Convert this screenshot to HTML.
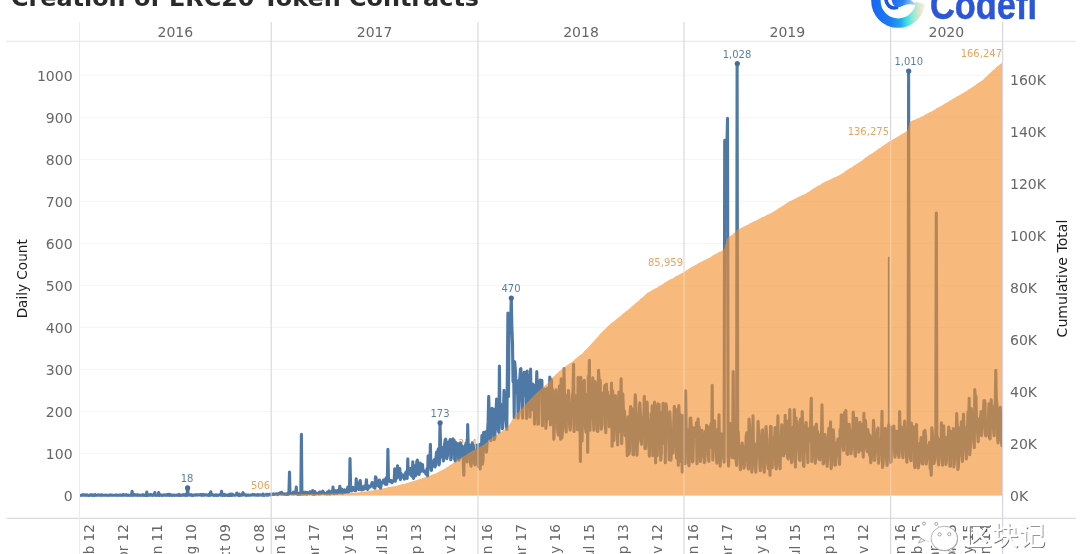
<!DOCTYPE html>
<html lang="en"><head><meta charset="utf-8"><title>Creation of ERC20 Token Contracts</title>
<style>
html,body{margin:0;padding:0;background:#fff;}
body{width:1080px;height:554px;overflow:hidden;position:relative;font-family:"DejaVu Sans","Liberation Sans","Noto Sans CJK SC",sans-serif;}
</style></head><body>
<svg width="1080" height="554" viewBox="0 0 1080 554" style="position:absolute;left:0;top:0">
<rect width="1080" height="554" fill="#fff"/>
<line x1="79.5" x2="1002.0" y1="495.50" y2="495.50" stroke="#f5f5f5" stroke-width="1"/>
<line x1="79.5" x2="1002.0" y1="453.48" y2="453.48" stroke="#f5f5f5" stroke-width="1"/>
<line x1="79.5" x2="1002.0" y1="411.46" y2="411.46" stroke="#f5f5f5" stroke-width="1"/>
<line x1="79.5" x2="1002.0" y1="369.44" y2="369.44" stroke="#f5f5f5" stroke-width="1"/>
<line x1="79.5" x2="1002.0" y1="327.42" y2="327.42" stroke="#f5f5f5" stroke-width="1"/>
<line x1="79.5" x2="1002.0" y1="285.40" y2="285.40" stroke="#f5f5f5" stroke-width="1"/>
<line x1="79.5" x2="1002.0" y1="243.38" y2="243.38" stroke="#f5f5f5" stroke-width="1"/>
<line x1="79.5" x2="1002.0" y1="201.36" y2="201.36" stroke="#f5f5f5" stroke-width="1"/>
<line x1="79.5" x2="1002.0" y1="159.34" y2="159.34" stroke="#f5f5f5" stroke-width="1"/>
<line x1="79.5" x2="1002.0" y1="117.32" y2="117.32" stroke="#f5f5f5" stroke-width="1"/>
<line x1="79.5" x2="1002.0" y1="75.30" y2="75.30" stroke="#f5f5f5" stroke-width="1"/>
<defs><clipPath id="inA"><path d="M79.5,495.5 L79.5,495.5 L80.6,495.5 L81.8,495.5 L82.9,495.5 L84.0,495.5 L85.2,495.5 L86.3,495.5 L87.4,495.5 L88.6,495.5 L89.7,495.5 L90.8,495.5 L92.0,495.5 L93.1,495.5 L94.2,495.5 L95.3,495.5 L96.5,495.5 L97.6,495.5 L98.7,495.5 L99.9,495.5 L101.0,495.5 L102.1,495.5 L103.3,495.5 L104.4,495.5 L105.5,495.5 L106.7,495.5 L107.8,495.5 L108.9,495.5 L110.1,495.5 L111.2,495.5 L112.3,495.5 L113.5,495.5 L114.6,495.5 L115.7,495.5 L116.9,495.5 L118.0,495.5 L119.1,495.5 L120.2,495.5 L121.4,495.5 L122.5,495.5 L123.6,495.5 L124.8,495.5 L125.9,495.5 L127.0,495.5 L128.2,495.5 L129.3,495.5 L130.4,495.5 L131.6,495.5 L132.7,495.5 L133.8,495.5 L135.0,495.5 L136.1,495.5 L137.2,495.5 L138.4,495.5 L139.5,495.5 L140.6,495.5 L141.8,495.5 L142.9,495.5 L144.0,495.5 L145.2,495.5 L146.3,495.5 L147.4,495.5 L148.5,495.5 L149.7,495.5 L150.8,495.5 L151.9,495.5 L153.1,495.5 L154.2,495.5 L155.3,495.5 L156.5,495.5 L157.6,495.5 L158.7,495.5 L159.9,495.5 L161.0,495.5 L162.1,495.5 L163.3,495.5 L164.4,495.5 L165.5,495.5 L166.7,495.5 L167.8,495.5 L168.9,495.5 L170.1,495.5 L171.2,495.5 L172.3,495.5 L173.4,495.5 L174.6,495.5 L175.7,495.5 L176.8,495.5 L178.0,495.5 L179.1,495.5 L180.2,495.5 L181.4,495.5 L182.5,495.5 L183.6,495.5 L184.8,495.5 L185.9,495.5 L187.0,495.5 L188.2,495.5 L189.3,495.5 L190.4,495.5 L191.6,495.5 L192.7,495.5 L193.8,495.5 L195.0,495.5 L196.1,495.5 L197.2,495.5 L198.3,495.5 L199.5,495.5 L200.6,495.5 L201.7,495.5 L202.9,495.5 L204.0,495.5 L205.1,495.5 L206.3,495.5 L207.4,495.5 L208.5,495.5 L209.7,495.5 L210.8,495.5 L211.9,495.5 L213.1,495.5 L214.2,495.5 L215.3,495.5 L216.5,495.5 L217.6,495.5 L218.7,495.5 L219.9,495.5 L221.0,495.5 L222.1,495.5 L223.3,495.5 L224.4,495.5 L225.5,495.5 L226.6,495.5 L227.8,495.5 L228.9,495.5 L230.0,495.5 L231.2,495.5 L232.3,495.5 L233.4,495.5 L234.6,495.5 L235.7,495.5 L236.8,495.5 L238.0,495.5 L239.1,495.5 L240.2,495.5 L241.4,495.5 L242.5,495.5 L243.6,495.5 L244.8,495.5 L245.9,495.5 L247.0,495.5 L248.2,495.5 L249.3,495.5 L250.4,495.5 L251.5,495.5 L252.7,495.5 L253.8,495.5 L254.9,495.4 L256.1,495.4 L257.2,495.4 L258.3,495.3 L259.5,495.3 L260.6,495.3 L261.7,495.2 L262.9,495.2 L264.0,495.1 L265.1,495.1 L266.3,495.0 L267.4,494.9 L268.5,494.9 L269.7,494.8 L270.8,494.8 L271.9,494.7 L273.1,494.7 L274.2,494.7 L275.3,494.7 L276.5,494.6 L277.6,494.6 L278.7,494.6 L279.8,494.6 L281.0,494.6 L282.1,494.6 L283.2,494.6 L284.4,494.5 L285.5,494.5 L286.6,494.5 L287.8,494.5 L288.9,494.5 L290.0,494.4 L291.2,494.4 L292.3,494.3 L293.4,494.3 L294.6,494.3 L295.7,494.3 L296.8,494.2 L298.0,494.2 L299.1,494.2 L300.2,494.2 L301.4,494.0 L302.5,494.0 L303.6,494.0 L304.7,494.0 L305.9,494.0 L307.0,494.0 L308.1,494.0 L309.3,493.9 L310.4,493.9 L311.5,493.9 L312.7,493.9 L313.8,493.9 L314.9,493.9 L316.1,493.9 L317.2,493.9 L318.3,493.8 L319.5,493.8 L320.6,493.8 L321.7,493.8 L322.9,493.8 L324.0,493.8 L325.1,493.8 L326.3,493.8 L327.4,493.7 L328.5,493.7 L329.7,493.7 L330.8,493.7 L331.9,493.6 L333.0,493.6 L334.2,493.6 L335.3,493.5 L336.4,493.5 L337.6,493.4 L338.7,493.4 L339.8,493.3 L341.0,493.3 L342.1,493.3 L343.2,493.2 L344.4,493.2 L345.5,493.1 L346.6,493.1 L347.8,493.1 L348.9,493.0 L350.0,492.8 L351.2,492.8 L352.3,492.7 L353.4,492.7 L354.6,492.6 L355.7,492.6 L356.8,492.4 L357.9,492.4 L359.1,492.3 L360.2,492.1 L361.3,491.9 L362.5,491.8 L363.6,491.7 L364.7,491.5 L365.9,491.4 L367.0,491.2 L368.1,491.1 L369.3,490.9 L370.4,490.8 L371.5,490.6 L372.7,490.4 L373.8,490.2 L374.9,490.1 L376.1,489.8 L377.2,489.6 L378.3,489.4 L379.5,489.2 L380.6,489.0 L381.7,488.8 L382.8,488.6 L384.0,488.3 L385.1,488.1 L386.2,487.8 L387.4,487.6 L388.5,487.1 L389.6,486.9 L390.8,486.7 L391.9,486.6 L393.0,486.4 L394.2,486.2 L395.3,485.9 L396.4,485.7 L397.6,485.4 L398.7,485.1 L399.8,484.8 L401.0,484.5 L402.1,484.3 L403.2,484.0 L404.4,483.8 L405.5,483.5 L406.6,483.1 L407.8,482.8 L408.9,482.4 L410.0,482.1 L411.1,481.8 L412.3,481.5 L413.4,481.1 L414.5,480.8 L415.7,480.4 L416.8,480.0 L417.9,479.6 L419.1,479.3 L420.2,478.9 L421.3,478.5 L422.5,478.1 L423.6,477.8 L424.7,477.4 L425.9,477.1 L427.0,476.8 L428.1,476.4 L429.3,475.9 L430.4,475.4 L431.5,475.0 L432.7,474.6 L433.8,474.1 L434.9,473.7 L436.0,473.2 L437.2,472.7 L438.3,472.1 L439.4,471.6 L440.6,470.8 L441.7,470.2 L442.8,469.7 L444.0,469.2 L445.1,468.4 L446.2,467.7 L447.4,467.1 L448.5,466.3 L449.6,465.4 L450.8,464.7 L451.9,464.0 L453.0,463.1 L454.2,462.3 L455.3,461.7 L456.4,460.9 L457.6,460.1 L458.7,459.4 L459.8,458.8 L461.0,457.9 L462.1,457.2 L463.2,456.6 L464.3,456.0 L465.5,455.3 L466.6,454.6 L467.7,453.7 L468.9,453.0 L470.0,452.2 L471.1,451.8 L472.3,451.0 L473.4,450.3 L474.5,449.7 L475.7,449.1 L476.8,448.5 L477.9,447.8 L479.1,447.3 L480.2,446.8 L481.3,446.2 L482.5,445.5 L483.6,444.8 L484.7,443.9 L485.9,443.1 L487.0,442.4 L488.1,441.4 L489.2,440.1 L490.4,439.2 L491.5,438.4 L492.6,437.6 L493.8,436.8 L494.9,436.3 L496.0,435.5 L497.2,434.6 L498.3,433.9 L499.4,433.0 L500.6,432.2 L501.7,431.4 L502.8,430.7 L504.0,429.8 L505.1,429.0 L506.2,428.2 L507.4,427.2 L508.5,425.9 L509.6,424.3 L510.8,422.4 L511.9,420.2 L513.0,418.7 L514.2,417.4 L515.3,415.8 L516.4,414.5 L517.5,413.2 L518.7,412.2 L519.8,410.8 L520.9,409.4 L522.1,408.2 L523.2,407.1 L524.3,405.7 L525.5,404.6 L526.6,403.4 L527.7,402.1 L528.9,400.8 L530.0,399.7 L531.1,398.4 L532.3,397.3 L533.4,396.0 L534.5,395.0 L535.7,393.9 L536.8,392.7 L537.9,391.8 L539.1,390.9 L540.2,389.7 L541.3,388.6 L542.4,387.7 L543.6,386.7 L544.7,385.7 L545.8,384.9 L547.0,384.0 L548.1,382.6 L549.2,381.5 L550.4,380.2 L551.5,378.9 L552.6,377.6 L553.8,376.6 L554.9,375.5 L556.0,374.3 L557.2,373.2 L558.3,372.4 L559.4,371.1 L560.6,370.2 L561.7,369.4 L562.8,368.7 L564.0,367.7 L565.1,366.7 L566.2,366.1 L567.3,365.1 L568.5,364.2 L569.6,363.4 L570.7,362.7 L571.9,361.9 L573.0,360.9 L574.1,359.9 L575.3,359.0 L576.4,358.1 L577.5,357.3 L578.7,356.2 L579.8,355.2 L580.9,354.5 L582.1,353.8 L583.2,352.4 L584.3,351.0 L585.5,350.1 L586.6,349.0 L587.7,348.0 L588.9,346.5 L590.0,345.2 L591.1,344.0 L592.3,342.7 L593.4,341.5 L594.5,340.4 L595.6,339.0 L596.8,337.7 L597.9,336.8 L599.0,335.2 L600.2,333.8 L601.3,332.8 L602.4,331.7 L603.6,330.4 L604.7,329.2 L605.8,328.4 L607.0,327.2 L608.1,326.1 L609.2,325.1 L610.4,324.1 L611.5,323.0 L612.6,322.1 L613.8,321.4 L614.9,320.4 L616.0,319.4 L617.2,318.6 L618.3,317.8 L619.4,316.7 L620.5,315.9 L621.7,314.9 L622.8,313.8 L623.9,312.9 L625.1,312.0 L626.2,311.1 L627.3,310.4 L628.5,309.3 L629.6,308.7 L630.7,307.5 L631.9,306.5 L633.0,305.6 L634.1,304.8 L635.3,303.5 L636.4,302.4 L637.5,301.7 L638.7,300.8 L639.8,299.6 L640.9,298.6 L642.1,297.7 L643.2,296.7 L644.3,295.4 L645.5,294.7 L646.6,293.6 L647.7,292.8 L648.8,292.1 L650.0,291.6 L651.1,290.9 L652.2,290.1 L653.4,289.6 L654.5,288.8 L655.6,288.2 L656.8,287.7 L657.9,287.0 L659.0,286.2 L660.2,285.5 L661.3,285.1 L662.4,284.4 L663.6,283.5 L664.7,282.7 L665.8,282.1 L667.0,281.3 L668.1,280.6 L669.2,280.1 L670.4,279.3 L671.5,278.9 L672.6,278.4 L673.7,277.8 L674.9,277.0 L676.0,276.1 L677.1,275.7 L678.3,275.2 L679.4,274.4 L680.5,273.8 L681.7,273.2 L682.8,272.7 L683.9,272.0 L685.1,271.5 L686.2,270.4 L687.3,269.7 L688.5,269.0 L689.6,268.4 L690.7,267.5 L691.9,266.8 L693.0,266.5 L694.1,265.7 L695.3,265.1 L696.4,264.4 L697.5,263.8 L698.7,263.1 L699.8,262.5 L700.9,262.1 L702.0,261.4 L703.2,260.8 L704.3,260.3 L705.4,259.8 L706.6,259.1 L707.7,258.4 L708.8,258.0 L710.0,257.4 L711.1,256.7 L712.2,255.8 L713.4,255.3 L714.5,254.5 L715.6,253.9 L716.8,253.5 L717.9,252.8 L719.0,252.1 L720.2,251.7 L721.3,251.1 L722.4,250.5 L723.6,250.0 L724.7,247.8 L725.8,243.7 L726.9,239.7 L728.1,237.3 L729.2,236.8 L730.3,235.9 L731.5,235.0 L732.6,234.4 L733.7,233.1 L734.9,232.5 L736.0,232.1 L737.1,229.8 L738.3,229.1 L739.4,228.6 L740.5,228.3 L741.7,227.7 L742.8,227.1 L743.9,226.6 L745.1,226.1 L746.2,225.5 L747.3,224.8 L748.5,224.5 L749.6,223.6 L750.7,223.0 L751.8,222.6 L753.0,221.9 L754.1,221.3 L755.2,220.8 L756.4,220.5 L757.5,219.9 L758.6,219.0 L759.8,218.5 L760.9,218.0 L762.0,217.3 L763.2,216.7 L764.3,216.4 L765.4,215.9 L766.6,215.1 L767.7,214.6 L768.8,214.2 L770.0,213.8 L771.1,212.8 L772.2,212.4 L773.4,211.7 L774.5,210.9 L775.6,210.2 L776.8,209.7 L777.9,208.7 L779.0,208.0 L780.1,207.6 L781.3,206.8 L782.4,205.9 L783.5,205.2 L784.7,204.5 L785.8,203.7 L786.9,202.7 L788.1,202.2 L789.2,201.6 L790.3,200.9 L791.5,200.5 L792.6,200.0 L793.7,199.5 L794.9,198.8 L796.0,198.2 L797.1,197.6 L798.3,197.0 L799.4,196.6 L800.5,196.1 L801.7,195.5 L802.8,194.7 L803.9,194.5 L805.0,193.9 L806.2,193.2 L807.3,192.6 L808.4,192.0 L809.6,191.3 L810.7,190.4 L811.8,189.6 L813.0,188.9 L814.1,188.1 L815.2,187.5 L816.4,186.8 L817.5,186.0 L818.6,185.4 L819.8,185.0 L820.9,184.2 L822.0,183.3 L823.2,182.8 L824.3,182.3 L825.4,181.6 L826.6,181.1 L827.7,180.7 L828.8,180.1 L830.0,179.6 L831.1,179.0 L832.2,178.6 L833.3,177.9 L834.5,177.3 L835.6,177.0 L836.7,176.4 L837.9,175.8 L839.0,175.4 L840.1,174.8 L841.3,174.1 L842.4,173.3 L843.5,172.7 L844.7,171.8 L845.8,170.8 L846.9,170.1 L848.1,169.5 L849.2,168.6 L850.3,167.9 L851.5,167.4 L852.6,166.7 L853.7,165.8 L854.9,165.1 L856.0,164.5 L857.1,163.6 L858.2,162.9 L859.4,162.3 L860.5,161.6 L861.6,160.7 L862.8,159.9 L863.9,159.0 L865.0,158.1 L866.2,157.1 L867.3,156.5 L868.4,155.6 L869.6,154.8 L870.7,154.2 L871.8,153.6 L873.0,152.9 L874.1,151.8 L875.2,151.2 L876.4,150.4 L877.5,149.5 L878.6,148.7 L879.8,148.0 L880.9,147.4 L882.0,146.3 L883.2,145.9 L884.3,145.0 L885.4,144.1 L886.5,143.4 L887.7,142.8 L888.8,141.8 L889.9,141.0 L891.1,140.6 L892.2,139.9 L893.3,139.1 L894.5,138.5 L895.6,138.0 L896.7,137.3 L897.9,136.6 L899.0,136.1 L900.1,135.2 L901.3,134.4 L902.4,133.8 L903.5,133.3 L904.7,132.5 L905.8,131.7 L906.9,131.0 L908.1,129.6 L909.2,122.9 L910.3,121.7 L911.4,121.2 L912.6,120.6 L913.7,120.0 L914.8,119.7 L916.0,119.2 L917.1,118.6 L918.2,118.2 L919.4,117.9 L920.5,117.3 L921.6,116.6 L922.8,116.2 L923.9,115.5 L925.0,114.7 L926.2,114.1 L927.3,113.6 L928.4,113.0 L929.6,112.3 L930.7,111.9 L931.8,111.4 L933.0,110.6 L934.1,110.1 L935.2,109.5 L936.3,108.2 L937.5,107.8 L938.6,107.5 L939.7,106.7 L940.9,106.1 L942.0,105.4 L943.1,104.8 L944.3,104.1 L945.4,103.3 L946.5,102.8 L947.7,102.1 L948.8,101.2 L949.9,100.6 L951.1,99.9 L952.2,99.3 L953.3,98.4 L954.5,98.0 L955.6,97.3 L956.7,96.4 L957.9,95.9 L959.0,95.4 L960.1,94.7 L961.3,94.0 L962.4,93.6 L963.5,92.8 L964.6,92.0 L965.8,91.4 L966.9,90.8 L968.0,90.0 L969.2,89.1 L970.3,88.6 L971.4,87.7 L972.6,87.0 L973.7,86.3 L974.8,85.5 L976.0,84.5 L977.1,83.7 L978.2,83.1 L979.4,82.3 L980.5,81.6 L981.6,80.9 L982.8,80.1 L983.9,79.0 L985.0,77.6 L986.2,76.8 L987.3,75.8 L988.4,74.7 L989.5,73.6 L990.7,72.6 L991.8,71.3 L992.9,70.2 L994.1,69.4 L995.2,68.4 L996.3,67.0 L997.5,66.2 L998.6,65.4 L999.7,64.4 L1000.9,63.5 L1002.0,62.9 L1002.0,62.9 L1002.0,495.5 Z"/></clipPath><clipPath id="outA"><path clip-rule="evenodd" d="M0,0 H1080 V554 H0 Z M79.5,495.5 L79.5,495.5 L80.6,495.5 L81.8,495.5 L82.9,495.5 L84.0,495.5 L85.2,495.5 L86.3,495.5 L87.4,495.5 L88.6,495.5 L89.7,495.5 L90.8,495.5 L92.0,495.5 L93.1,495.5 L94.2,495.5 L95.3,495.5 L96.5,495.5 L97.6,495.5 L98.7,495.5 L99.9,495.5 L101.0,495.5 L102.1,495.5 L103.3,495.5 L104.4,495.5 L105.5,495.5 L106.7,495.5 L107.8,495.5 L108.9,495.5 L110.1,495.5 L111.2,495.5 L112.3,495.5 L113.5,495.5 L114.6,495.5 L115.7,495.5 L116.9,495.5 L118.0,495.5 L119.1,495.5 L120.2,495.5 L121.4,495.5 L122.5,495.5 L123.6,495.5 L124.8,495.5 L125.9,495.5 L127.0,495.5 L128.2,495.5 L129.3,495.5 L130.4,495.5 L131.6,495.5 L132.7,495.5 L133.8,495.5 L135.0,495.5 L136.1,495.5 L137.2,495.5 L138.4,495.5 L139.5,495.5 L140.6,495.5 L141.8,495.5 L142.9,495.5 L144.0,495.5 L145.2,495.5 L146.3,495.5 L147.4,495.5 L148.5,495.5 L149.7,495.5 L150.8,495.5 L151.9,495.5 L153.1,495.5 L154.2,495.5 L155.3,495.5 L156.5,495.5 L157.6,495.5 L158.7,495.5 L159.9,495.5 L161.0,495.5 L162.1,495.5 L163.3,495.5 L164.4,495.5 L165.5,495.5 L166.7,495.5 L167.8,495.5 L168.9,495.5 L170.1,495.5 L171.2,495.5 L172.3,495.5 L173.4,495.5 L174.6,495.5 L175.7,495.5 L176.8,495.5 L178.0,495.5 L179.1,495.5 L180.2,495.5 L181.4,495.5 L182.5,495.5 L183.6,495.5 L184.8,495.5 L185.9,495.5 L187.0,495.5 L188.2,495.5 L189.3,495.5 L190.4,495.5 L191.6,495.5 L192.7,495.5 L193.8,495.5 L195.0,495.5 L196.1,495.5 L197.2,495.5 L198.3,495.5 L199.5,495.5 L200.6,495.5 L201.7,495.5 L202.9,495.5 L204.0,495.5 L205.1,495.5 L206.3,495.5 L207.4,495.5 L208.5,495.5 L209.7,495.5 L210.8,495.5 L211.9,495.5 L213.1,495.5 L214.2,495.5 L215.3,495.5 L216.5,495.5 L217.6,495.5 L218.7,495.5 L219.9,495.5 L221.0,495.5 L222.1,495.5 L223.3,495.5 L224.4,495.5 L225.5,495.5 L226.6,495.5 L227.8,495.5 L228.9,495.5 L230.0,495.5 L231.2,495.5 L232.3,495.5 L233.4,495.5 L234.6,495.5 L235.7,495.5 L236.8,495.5 L238.0,495.5 L239.1,495.5 L240.2,495.5 L241.4,495.5 L242.5,495.5 L243.6,495.5 L244.8,495.5 L245.9,495.5 L247.0,495.5 L248.2,495.5 L249.3,495.5 L250.4,495.5 L251.5,495.5 L252.7,495.5 L253.8,495.5 L254.9,495.4 L256.1,495.4 L257.2,495.4 L258.3,495.3 L259.5,495.3 L260.6,495.3 L261.7,495.2 L262.9,495.2 L264.0,495.1 L265.1,495.1 L266.3,495.0 L267.4,494.9 L268.5,494.9 L269.7,494.8 L270.8,494.8 L271.9,494.7 L273.1,494.7 L274.2,494.7 L275.3,494.7 L276.5,494.6 L277.6,494.6 L278.7,494.6 L279.8,494.6 L281.0,494.6 L282.1,494.6 L283.2,494.6 L284.4,494.5 L285.5,494.5 L286.6,494.5 L287.8,494.5 L288.9,494.5 L290.0,494.4 L291.2,494.4 L292.3,494.3 L293.4,494.3 L294.6,494.3 L295.7,494.3 L296.8,494.2 L298.0,494.2 L299.1,494.2 L300.2,494.2 L301.4,494.0 L302.5,494.0 L303.6,494.0 L304.7,494.0 L305.9,494.0 L307.0,494.0 L308.1,494.0 L309.3,493.9 L310.4,493.9 L311.5,493.9 L312.7,493.9 L313.8,493.9 L314.9,493.9 L316.1,493.9 L317.2,493.9 L318.3,493.8 L319.5,493.8 L320.6,493.8 L321.7,493.8 L322.9,493.8 L324.0,493.8 L325.1,493.8 L326.3,493.8 L327.4,493.7 L328.5,493.7 L329.7,493.7 L330.8,493.7 L331.9,493.6 L333.0,493.6 L334.2,493.6 L335.3,493.5 L336.4,493.5 L337.6,493.4 L338.7,493.4 L339.8,493.3 L341.0,493.3 L342.1,493.3 L343.2,493.2 L344.4,493.2 L345.5,493.1 L346.6,493.1 L347.8,493.1 L348.9,493.0 L350.0,492.8 L351.2,492.8 L352.3,492.7 L353.4,492.7 L354.6,492.6 L355.7,492.6 L356.8,492.4 L357.9,492.4 L359.1,492.3 L360.2,492.1 L361.3,491.9 L362.5,491.8 L363.6,491.7 L364.7,491.5 L365.9,491.4 L367.0,491.2 L368.1,491.1 L369.3,490.9 L370.4,490.8 L371.5,490.6 L372.7,490.4 L373.8,490.2 L374.9,490.1 L376.1,489.8 L377.2,489.6 L378.3,489.4 L379.5,489.2 L380.6,489.0 L381.7,488.8 L382.8,488.6 L384.0,488.3 L385.1,488.1 L386.2,487.8 L387.4,487.6 L388.5,487.1 L389.6,486.9 L390.8,486.7 L391.9,486.6 L393.0,486.4 L394.2,486.2 L395.3,485.9 L396.4,485.7 L397.6,485.4 L398.7,485.1 L399.8,484.8 L401.0,484.5 L402.1,484.3 L403.2,484.0 L404.4,483.8 L405.5,483.5 L406.6,483.1 L407.8,482.8 L408.9,482.4 L410.0,482.1 L411.1,481.8 L412.3,481.5 L413.4,481.1 L414.5,480.8 L415.7,480.4 L416.8,480.0 L417.9,479.6 L419.1,479.3 L420.2,478.9 L421.3,478.5 L422.5,478.1 L423.6,477.8 L424.7,477.4 L425.9,477.1 L427.0,476.8 L428.1,476.4 L429.3,475.9 L430.4,475.4 L431.5,475.0 L432.7,474.6 L433.8,474.1 L434.9,473.7 L436.0,473.2 L437.2,472.7 L438.3,472.1 L439.4,471.6 L440.6,470.8 L441.7,470.2 L442.8,469.7 L444.0,469.2 L445.1,468.4 L446.2,467.7 L447.4,467.1 L448.5,466.3 L449.6,465.4 L450.8,464.7 L451.9,464.0 L453.0,463.1 L454.2,462.3 L455.3,461.7 L456.4,460.9 L457.6,460.1 L458.7,459.4 L459.8,458.8 L461.0,457.9 L462.1,457.2 L463.2,456.6 L464.3,456.0 L465.5,455.3 L466.6,454.6 L467.7,453.7 L468.9,453.0 L470.0,452.2 L471.1,451.8 L472.3,451.0 L473.4,450.3 L474.5,449.7 L475.7,449.1 L476.8,448.5 L477.9,447.8 L479.1,447.3 L480.2,446.8 L481.3,446.2 L482.5,445.5 L483.6,444.8 L484.7,443.9 L485.9,443.1 L487.0,442.4 L488.1,441.4 L489.2,440.1 L490.4,439.2 L491.5,438.4 L492.6,437.6 L493.8,436.8 L494.9,436.3 L496.0,435.5 L497.2,434.6 L498.3,433.9 L499.4,433.0 L500.6,432.2 L501.7,431.4 L502.8,430.7 L504.0,429.8 L505.1,429.0 L506.2,428.2 L507.4,427.2 L508.5,425.9 L509.6,424.3 L510.8,422.4 L511.9,420.2 L513.0,418.7 L514.2,417.4 L515.3,415.8 L516.4,414.5 L517.5,413.2 L518.7,412.2 L519.8,410.8 L520.9,409.4 L522.1,408.2 L523.2,407.1 L524.3,405.7 L525.5,404.6 L526.6,403.4 L527.7,402.1 L528.9,400.8 L530.0,399.7 L531.1,398.4 L532.3,397.3 L533.4,396.0 L534.5,395.0 L535.7,393.9 L536.8,392.7 L537.9,391.8 L539.1,390.9 L540.2,389.7 L541.3,388.6 L542.4,387.7 L543.6,386.7 L544.7,385.7 L545.8,384.9 L547.0,384.0 L548.1,382.6 L549.2,381.5 L550.4,380.2 L551.5,378.9 L552.6,377.6 L553.8,376.6 L554.9,375.5 L556.0,374.3 L557.2,373.2 L558.3,372.4 L559.4,371.1 L560.6,370.2 L561.7,369.4 L562.8,368.7 L564.0,367.7 L565.1,366.7 L566.2,366.1 L567.3,365.1 L568.5,364.2 L569.6,363.4 L570.7,362.7 L571.9,361.9 L573.0,360.9 L574.1,359.9 L575.3,359.0 L576.4,358.1 L577.5,357.3 L578.7,356.2 L579.8,355.2 L580.9,354.5 L582.1,353.8 L583.2,352.4 L584.3,351.0 L585.5,350.1 L586.6,349.0 L587.7,348.0 L588.9,346.5 L590.0,345.2 L591.1,344.0 L592.3,342.7 L593.4,341.5 L594.5,340.4 L595.6,339.0 L596.8,337.7 L597.9,336.8 L599.0,335.2 L600.2,333.8 L601.3,332.8 L602.4,331.7 L603.6,330.4 L604.7,329.2 L605.8,328.4 L607.0,327.2 L608.1,326.1 L609.2,325.1 L610.4,324.1 L611.5,323.0 L612.6,322.1 L613.8,321.4 L614.9,320.4 L616.0,319.4 L617.2,318.6 L618.3,317.8 L619.4,316.7 L620.5,315.9 L621.7,314.9 L622.8,313.8 L623.9,312.9 L625.1,312.0 L626.2,311.1 L627.3,310.4 L628.5,309.3 L629.6,308.7 L630.7,307.5 L631.9,306.5 L633.0,305.6 L634.1,304.8 L635.3,303.5 L636.4,302.4 L637.5,301.7 L638.7,300.8 L639.8,299.6 L640.9,298.6 L642.1,297.7 L643.2,296.7 L644.3,295.4 L645.5,294.7 L646.6,293.6 L647.7,292.8 L648.8,292.1 L650.0,291.6 L651.1,290.9 L652.2,290.1 L653.4,289.6 L654.5,288.8 L655.6,288.2 L656.8,287.7 L657.9,287.0 L659.0,286.2 L660.2,285.5 L661.3,285.1 L662.4,284.4 L663.6,283.5 L664.7,282.7 L665.8,282.1 L667.0,281.3 L668.1,280.6 L669.2,280.1 L670.4,279.3 L671.5,278.9 L672.6,278.4 L673.7,277.8 L674.9,277.0 L676.0,276.1 L677.1,275.7 L678.3,275.2 L679.4,274.4 L680.5,273.8 L681.7,273.2 L682.8,272.7 L683.9,272.0 L685.1,271.5 L686.2,270.4 L687.3,269.7 L688.5,269.0 L689.6,268.4 L690.7,267.5 L691.9,266.8 L693.0,266.5 L694.1,265.7 L695.3,265.1 L696.4,264.4 L697.5,263.8 L698.7,263.1 L699.8,262.5 L700.9,262.1 L702.0,261.4 L703.2,260.8 L704.3,260.3 L705.4,259.8 L706.6,259.1 L707.7,258.4 L708.8,258.0 L710.0,257.4 L711.1,256.7 L712.2,255.8 L713.4,255.3 L714.5,254.5 L715.6,253.9 L716.8,253.5 L717.9,252.8 L719.0,252.1 L720.2,251.7 L721.3,251.1 L722.4,250.5 L723.6,250.0 L724.7,247.8 L725.8,243.7 L726.9,239.7 L728.1,237.3 L729.2,236.8 L730.3,235.9 L731.5,235.0 L732.6,234.4 L733.7,233.1 L734.9,232.5 L736.0,232.1 L737.1,229.8 L738.3,229.1 L739.4,228.6 L740.5,228.3 L741.7,227.7 L742.8,227.1 L743.9,226.6 L745.1,226.1 L746.2,225.5 L747.3,224.8 L748.5,224.5 L749.6,223.6 L750.7,223.0 L751.8,222.6 L753.0,221.9 L754.1,221.3 L755.2,220.8 L756.4,220.5 L757.5,219.9 L758.6,219.0 L759.8,218.5 L760.9,218.0 L762.0,217.3 L763.2,216.7 L764.3,216.4 L765.4,215.9 L766.6,215.1 L767.7,214.6 L768.8,214.2 L770.0,213.8 L771.1,212.8 L772.2,212.4 L773.4,211.7 L774.5,210.9 L775.6,210.2 L776.8,209.7 L777.9,208.7 L779.0,208.0 L780.1,207.6 L781.3,206.8 L782.4,205.9 L783.5,205.2 L784.7,204.5 L785.8,203.7 L786.9,202.7 L788.1,202.2 L789.2,201.6 L790.3,200.9 L791.5,200.5 L792.6,200.0 L793.7,199.5 L794.9,198.8 L796.0,198.2 L797.1,197.6 L798.3,197.0 L799.4,196.6 L800.5,196.1 L801.7,195.5 L802.8,194.7 L803.9,194.5 L805.0,193.9 L806.2,193.2 L807.3,192.6 L808.4,192.0 L809.6,191.3 L810.7,190.4 L811.8,189.6 L813.0,188.9 L814.1,188.1 L815.2,187.5 L816.4,186.8 L817.5,186.0 L818.6,185.4 L819.8,185.0 L820.9,184.2 L822.0,183.3 L823.2,182.8 L824.3,182.3 L825.4,181.6 L826.6,181.1 L827.7,180.7 L828.8,180.1 L830.0,179.6 L831.1,179.0 L832.2,178.6 L833.3,177.9 L834.5,177.3 L835.6,177.0 L836.7,176.4 L837.9,175.8 L839.0,175.4 L840.1,174.8 L841.3,174.1 L842.4,173.3 L843.5,172.7 L844.7,171.8 L845.8,170.8 L846.9,170.1 L848.1,169.5 L849.2,168.6 L850.3,167.9 L851.5,167.4 L852.6,166.7 L853.7,165.8 L854.9,165.1 L856.0,164.5 L857.1,163.6 L858.2,162.9 L859.4,162.3 L860.5,161.6 L861.6,160.7 L862.8,159.9 L863.9,159.0 L865.0,158.1 L866.2,157.1 L867.3,156.5 L868.4,155.6 L869.6,154.8 L870.7,154.2 L871.8,153.6 L873.0,152.9 L874.1,151.8 L875.2,151.2 L876.4,150.4 L877.5,149.5 L878.6,148.7 L879.8,148.0 L880.9,147.4 L882.0,146.3 L883.2,145.9 L884.3,145.0 L885.4,144.1 L886.5,143.4 L887.7,142.8 L888.8,141.8 L889.9,141.0 L891.1,140.6 L892.2,139.9 L893.3,139.1 L894.5,138.5 L895.6,138.0 L896.7,137.3 L897.9,136.6 L899.0,136.1 L900.1,135.2 L901.3,134.4 L902.4,133.8 L903.5,133.3 L904.7,132.5 L905.8,131.7 L906.9,131.0 L908.1,129.6 L909.2,122.9 L910.3,121.7 L911.4,121.2 L912.6,120.6 L913.7,120.0 L914.8,119.7 L916.0,119.2 L917.1,118.6 L918.2,118.2 L919.4,117.9 L920.5,117.3 L921.6,116.6 L922.8,116.2 L923.9,115.5 L925.0,114.7 L926.2,114.1 L927.3,113.6 L928.4,113.0 L929.6,112.3 L930.7,111.9 L931.8,111.4 L933.0,110.6 L934.1,110.1 L935.2,109.5 L936.3,108.2 L937.5,107.8 L938.6,107.5 L939.7,106.7 L940.9,106.1 L942.0,105.4 L943.1,104.8 L944.3,104.1 L945.4,103.3 L946.5,102.8 L947.7,102.1 L948.8,101.2 L949.9,100.6 L951.1,99.9 L952.2,99.3 L953.3,98.4 L954.5,98.0 L955.6,97.3 L956.7,96.4 L957.9,95.9 L959.0,95.4 L960.1,94.7 L961.3,94.0 L962.4,93.6 L963.5,92.8 L964.6,92.0 L965.8,91.4 L966.9,90.8 L968.0,90.0 L969.2,89.1 L970.3,88.6 L971.4,87.7 L972.6,87.0 L973.7,86.3 L974.8,85.5 L976.0,84.5 L977.1,83.7 L978.2,83.1 L979.4,82.3 L980.5,81.6 L981.6,80.9 L982.8,80.1 L983.9,79.0 L985.0,77.6 L986.2,76.8 L987.3,75.8 L988.4,74.7 L989.5,73.6 L990.7,72.6 L991.8,71.3 L992.9,70.2 L994.1,69.4 L995.2,68.4 L996.3,67.0 L997.5,66.2 L998.6,65.4 L999.7,64.4 L1000.9,63.5 L1002.0,62.9 L1002.0,62.9 L1002.0,495.5 Z"/></clipPath></defs>
<text x="477" y="447.4" font-family="DejaVu Sans, Liberation Sans, sans-serif" font-size="10" fill="#e9a45f" text-anchor="end">18,254</text>
<clipPath id="plot"><rect x="79.3" y="42" width="923.0" height="470"/></clipPath>
<polyline clip-path="url(#plot)" points="79.5,495.5 80.1,495.4 80.6,495.3 81.2,495.3 81.8,495.2 82.3,495.3 82.9,494.7 83.5,495.0 84.0,495.2 84.6,495.3 85.2,494.8 85.7,494.9 86.3,495.3 86.9,494.8 87.4,495.2 88.0,495.4 88.6,495.3 89.1,495.4 89.7,495.0 90.3,495.3 90.8,495.2 91.4,494.7 92.0,495.2 92.5,495.5 93.1,495.0 93.6,494.9 94.2,495.5 94.8,495.2 95.3,494.7 95.9,495.3 96.5,495.2 97.0,495.2 97.6,495.3 98.2,494.9 98.7,495.2 99.3,495.1 99.9,495.3 100.4,495.3 101.0,494.8 101.6,495.3 102.1,494.9 102.7,495.2 103.3,495.3 103.8,495.3 104.4,495.3 105.0,495.3 105.5,495.0 106.1,495.2 106.7,495.2 107.2,495.3 107.8,495.3 108.4,495.4 108.9,495.2 109.5,495.1 110.1,495.0 110.6,495.2 111.2,495.0 111.8,495.0 112.3,495.3 112.9,495.2 113.5,495.2 114.0,495.3 114.6,495.3 115.2,495.3 115.7,495.1 116.3,494.8 116.9,495.1 117.4,495.4 118.0,495.2 118.6,495.2 119.1,495.1 119.7,495.2 120.2,495.1 120.8,495.1 121.4,495.3 121.9,495.4 122.5,494.9 123.1,494.5 123.6,495.2 124.2,495.2 124.8,495.2 125.3,495.3 125.9,494.7 126.5,495.0 127.0,495.4 127.6,495.1 128.2,495.3 128.7,495.1 129.3,495.3 129.9,495.4 130.4,495.3 131.0,495.3 131.6,495.2 132.1,491.3 132.7,495.4 133.3,495.3 133.8,495.3 134.4,494.6 135.0,494.6 135.5,495.2 136.1,495.0 136.7,495.1 137.2,494.7 137.8,495.3 138.4,495.0 138.9,494.9 139.5,495.1 140.1,495.3 140.6,495.4 141.2,495.1 141.8,495.3 142.3,495.1 142.9,494.6 143.5,495.1 144.0,495.4 144.6,495.1 145.2,495.1 145.7,495.4 146.3,495.1 146.8,492.1 147.4,495.5 148.0,494.8 148.5,495.0 149.1,495.1 149.7,495.2 150.2,494.6 150.8,494.5 151.4,495.2 151.9,494.8 152.5,495.4 153.1,495.1 153.6,495.0 154.2,495.2 154.8,492.6 155.3,495.2 155.9,495.1 156.5,495.1 157.0,495.4 157.6,495.2 158.2,495.1 158.7,492.6 159.3,495.5 159.9,494.6 160.4,495.0 161.0,495.3 161.6,495.1 162.1,495.5 162.7,495.1 163.3,494.9 163.8,495.2 164.4,495.3 165.0,495.0 165.5,495.2 166.1,494.9 166.7,495.3 167.2,494.6 167.8,495.2 168.4,494.4 168.9,494.4 169.5,495.4 170.1,495.1 170.6,494.6 171.2,495.3 171.8,495.3 172.3,495.5 172.9,495.1 173.4,495.1 174.0,495.2 174.6,495.4 175.1,495.3 175.7,495.2 176.3,495.1 176.8,495.2 177.4,495.4 178.0,495.2 178.5,495.4 179.1,494.3 179.7,495.2 180.2,495.1 180.8,495.4 181.4,495.0 181.9,495.1 182.5,495.0 183.1,495.2 183.6,494.6 184.2,495.0 184.8,495.3 185.3,495.4 185.9,494.4 186.5,494.7 187.0,495.4 187.6,487.9 188.2,495.0 188.7,494.4 189.3,494.5 189.9,495.1 190.4,494.9 191.0,495.3 191.6,494.6 192.1,495.0 192.7,495.5 193.3,495.2 193.8,495.1 194.4,494.9 195.0,495.2 195.5,495.0 196.1,494.8 196.7,494.6 197.2,495.1 197.8,494.9 198.3,494.9 198.9,495.0 199.5,495.0 200.0,494.6 200.6,494.7 201.2,494.5 201.7,495.4 202.3,495.2 202.9,494.7 203.4,494.4 204.0,495.2 204.6,495.1 205.1,495.0 205.7,494.7 206.3,494.7 206.8,495.2 207.4,495.1 208.0,495.3 208.5,495.4 209.1,494.3 209.7,495.0 210.2,495.4 210.8,491.7 211.4,495.0 211.9,494.2 212.5,494.9 213.1,495.0 213.6,495.3 214.2,495.5 214.8,495.1 215.3,494.9 215.9,495.3 216.5,495.5 217.0,494.9 217.6,495.1 218.2,495.4 218.7,495.0 219.3,495.0 219.9,494.5 220.4,495.2 221.0,495.2 221.6,491.3 222.1,494.9 222.7,495.5 223.3,494.7 223.8,495.1 224.4,494.3 224.9,495.5 225.5,495.2 226.1,495.1 226.6,495.0 227.2,495.0 227.8,495.5 228.3,495.1 228.9,495.3 229.5,494.3 230.0,495.4 230.6,494.1 231.2,494.4 231.7,495.4 232.3,494.1 232.9,495.1 233.4,495.3 234.0,495.2 234.6,495.3 235.1,495.2 235.7,495.0 236.3,494.6 236.8,493.0 237.4,494.8 238.0,494.1 238.5,495.3 239.1,494.1 239.7,495.5 240.2,495.0 240.8,494.8 241.4,495.2 241.9,495.0 242.5,494.3 243.1,492.6 243.6,494.9 244.2,494.4 244.8,495.0 245.3,495.1 245.9,494.8 246.5,495.5 247.0,495.2 247.6,495.1 248.2,495.0 248.7,495.2 249.3,495.2 249.9,495.3 250.4,495.2 251.0,495.0 251.5,494.9 252.1,495.0 252.7,494.4 253.2,495.1 253.8,494.9 254.4,494.5 254.9,494.9 255.5,495.2 256.1,495.2 256.6,495.3 257.2,494.8 257.8,494.5 258.3,495.3 258.9,495.3 259.5,495.1 260.0,494.7 260.6,494.9 261.2,495.1 261.7,494.8 262.3,495.2 262.9,494.0 263.4,494.5 264.0,495.4 264.6,495.0 265.1,494.9 265.7,495.0 266.3,494.3 266.8,495.1 267.4,494.3 268.0,495.2 268.5,494.6 269.1,494.6 269.7,494.2 270.2,494.9 270.8,494.6 271.4,494.2 271.9,494.1 272.5,494.4 273.1,494.3 273.6,493.8 274.2,494.5 274.8,494.2 275.3,494.1 275.9,494.0 276.5,493.9 277.0,493.8 277.6,494.6 278.1,494.3 278.7,493.5 279.3,493.7 279.8,493.0 280.4,493.8 281.0,494.0 281.5,492.3 282.1,493.9 282.7,493.6 283.2,493.8 283.8,494.2 284.4,494.0 284.9,494.2 285.5,494.0 286.1,494.5 286.6,494.2 287.2,494.4 287.8,493.1 288.3,494.4 288.9,493.9 289.5,472.0 290.0,493.4 290.6,493.3 291.2,493.6 291.7,493.5 292.3,493.6 292.9,493.8 293.4,492.2 294.0,493.7 294.6,493.6 295.1,493.6 295.7,492.6 296.3,487.1 296.8,493.8 297.4,494.2 298.0,493.7 298.5,493.4 299.1,494.3 299.7,493.9 300.2,493.0 300.8,494.2 301.4,434.2 301.9,493.7 302.5,491.7 303.1,494.0 303.6,493.3 304.2,493.0 304.7,493.6 305.3,492.2 305.9,493.4 306.4,494.2 307.0,492.5 307.6,493.6 308.1,492.8 308.7,493.2 309.3,493.6 309.8,491.7 310.4,491.7 311.0,493.4 311.5,493.7 312.1,493.1 312.7,490.5 313.2,494.2 313.8,493.9 314.4,494.3 314.9,491.6 315.5,493.0 316.1,493.7 316.6,493.5 317.2,493.5 317.8,493.3 318.3,493.5 318.9,493.8 319.5,492.0 320.0,492.7 320.6,493.6 321.2,492.0 321.7,493.3 322.3,492.8 322.9,491.1 323.4,493.2 324.0,492.7 324.6,493.7 325.1,493.4 325.7,493.5 326.3,493.6 326.8,493.8 327.4,492.2 328.0,493.7 328.5,491.8 329.1,491.0 329.7,492.3 330.2,494.0 330.8,492.5 331.3,491.5 331.9,491.6 332.5,491.9 333.0,487.1 333.6,493.5 334.2,493.6 334.7,493.1 335.3,490.7 335.9,492.2 336.4,492.4 337.0,493.5 337.6,490.6 338.1,492.7 338.7,492.7 339.3,492.2 339.8,486.3 340.4,489.4 341.0,492.9 341.5,492.4 342.1,489.3 342.7,493.2 343.2,492.2 343.8,491.2 344.4,492.4 344.9,489.9 345.5,492.1 346.1,492.4 346.6,492.0 347.2,491.3 347.8,487.1 348.3,492.2 348.9,491.5 349.5,489.1 350.0,458.5 350.6,485.9 351.2,489.8 351.7,490.8 352.3,489.6 352.9,487.3 353.4,488.5 354.0,488.1 354.6,490.3 355.1,489.6 355.7,490.6 356.2,478.7 356.8,488.9 357.4,484.2 357.9,488.0 358.5,487.1 359.1,489.5 359.6,482.0 360.2,480.5 360.8,486.2 361.3,489.9 361.9,486.8 362.5,487.8 363.0,489.6 363.6,486.6 364.2,488.9 364.7,485.8 365.3,488.5 365.9,486.0 366.4,479.7 367.0,488.0 367.6,489.4 368.1,488.6 368.7,486.0 369.3,486.3 369.8,487.1 370.4,486.2 371.0,486.3 371.5,484.8 372.1,482.5 372.7,484.4 373.2,484.7 373.8,487.5 374.4,485.9 374.9,488.3 375.5,476.7 376.1,478.0 376.6,484.0 377.2,485.3 377.8,481.2 378.3,483.4 378.9,486.5 379.5,480.0 380.0,482.5 380.6,488.4 381.2,484.2 381.7,483.7 382.3,482.4 382.8,482.6 383.4,480.1 384.0,481.6 384.5,479.8 385.1,484.1 385.7,484.0 386.2,477.9 386.8,484.4 387.4,478.8 387.9,449.3 388.5,480.1 389.1,481.0 389.6,481.4 390.2,481.4 390.8,480.3 391.3,480.7 391.9,482.7 392.5,481.7 393.0,480.9 393.6,480.6 394.2,480.9 394.7,468.9 395.3,481.3 395.9,470.4 396.4,478.6 397.0,477.5 397.6,465.7 398.1,477.1 398.7,475.2 399.3,471.7 399.8,468.6 400.4,479.6 401.0,473.3 401.5,476.2 402.1,476.1 402.7,476.4 403.2,477.3 403.8,475.0 404.4,479.1 404.9,475.4 405.5,473.1 406.1,471.9 406.6,474.0 407.2,478.5 407.8,458.9 408.3,474.3 408.9,471.3 409.4,473.6 410.0,473.2 410.6,468.6 411.1,475.3 411.7,476.0 412.3,473.4 412.8,461.8 413.4,478.4 414.0,475.2 414.5,465.8 415.1,465.6 415.7,475.9 416.2,474.2 416.8,461.5 417.4,460.2 417.9,472.1 418.5,473.4 419.1,474.4 419.6,471.8 420.2,463.1 420.8,466.8 421.3,471.1 421.9,470.5 422.5,464.5 423.0,470.9 423.6,470.4 424.2,471.8 424.7,472.0 425.3,472.4 425.9,474.1 426.4,471.8 427.0,468.7 427.6,476.0 428.1,455.8 428.7,463.1 429.3,462.2 429.8,466.0 430.4,444.2 431.0,469.8 431.5,470.4 432.1,461.0 432.7,465.9 433.2,464.7 433.8,461.0 434.4,459.6 434.9,467.0 435.5,465.7 436.0,457.1 436.6,452.0 437.2,455.4 437.7,453.4 438.3,448.7 438.9,464.9 439.4,463.4 440.0,422.8 440.6,446.0 441.1,452.4 441.7,447.3 442.3,457.3 442.8,457.0 443.4,460.9 444.0,454.0 444.5,444.3 445.1,440.9 445.7,439.1 446.2,442.2 446.8,458.7 447.4,456.1 447.9,442.7 448.5,445.2 449.1,445.9 449.6,441.3 450.2,439.5 450.8,459.7 451.3,458.3 451.9,441.8 452.5,440.1 453.0,438.9 453.6,450.9 454.2,440.4 454.7,459.3 455.3,461.1 455.9,442.6 456.4,446.0 457.0,447.9 457.6,445.4 458.1,443.8 458.7,460.3 459.3,458.7 459.8,452.2 460.4,442.8 461.0,445.6 461.5,447.0 462.1,445.9 462.6,457.8 463.2,457.3 463.8,475.3 464.3,447.0 464.9,453.1 465.5,445.4 466.0,443.3 466.6,458.5 467.2,462.0 467.7,424.5 468.3,450.1 468.9,451.3 469.4,447.9 470.0,445.3 470.6,463.9 471.1,466.2 471.7,457.4 472.3,442.9 472.8,449.2 473.4,445.7 474.0,452.2 474.5,463.5 475.1,464.8 475.7,450.3 476.2,455.6 476.8,456.1 477.4,445.0 477.9,462.2 478.5,466.7 479.1,460.7 479.6,444.6 480.2,469.0 480.8,450.4 481.3,455.0 481.9,435.6 482.5,464.1 483.0,460.3 483.6,432.4 484.2,434.1 484.7,434.7 485.3,438.1 485.9,431.8 486.4,452.2 487.0,445.1 487.6,430.5 488.1,421.9 488.7,396.3 489.2,413.3 489.8,423.5 490.4,439.4 490.9,440.6 491.5,421.0 492.1,408.4 492.6,409.4 493.2,416.9 493.8,409.3 494.3,439.6 494.9,437.4 495.5,421.9 496.0,412.9 496.6,399.0 497.2,406.1 497.7,409.0 498.3,430.2 498.9,432.4 499.4,366.1 500.0,417.0 500.6,403.9 501.1,411.8 501.7,411.5 502.3,428.8 502.8,427.3 503.4,413.2 504.0,390.4 504.5,407.4 505.1,403.0 505.7,402.0 506.2,419.9 506.8,429.5 507.4,369.4 507.9,313.1 508.5,396.5 509.1,323.2 509.6,329.5 510.2,331.6 510.8,314.8 511.3,298.0 511.9,327.4 512.5,343.4 513.0,381.6 513.6,361.0 514.2,417.8 514.7,361.9 515.3,368.9 515.8,378.7 516.4,382.7 517.0,392.8 517.5,384.5 518.1,418.3 518.7,401.1 519.2,380.2 519.8,378.7 520.4,369.0 520.9,368.7 521.5,384.2 522.1,412.7 522.6,418.2 523.2,387.1 523.8,383.5 524.3,372.2 524.9,392.1 525.5,395.1 526.0,372.0 526.6,418.4 527.2,371.0 527.7,407.0 528.3,389.4 528.9,376.1 529.4,377.6 530.0,417.0 530.6,369.0 531.1,401.7 531.7,396.8 532.3,409.8 532.8,384.0 533.4,393.2 534.0,385.0 534.5,423.9 535.1,398.7 535.7,393.5 536.2,393.9 536.8,371.5 537.4,398.9 537.9,424.1 538.5,423.8 539.1,381.5 539.6,386.2 540.2,380.0 540.8,390.1 541.3,390.4 541.9,380.4 542.4,425.7 543.0,396.0 543.6,400.2 544.1,414.5 544.7,389.1 545.3,402.6 545.8,428.3 546.4,420.6 547.0,414.3 547.5,388.1 548.1,394.0 548.7,418.5 549.2,398.6 549.8,377.0 550.4,424.9 550.9,398.7 551.5,379.9 552.1,404.0 552.6,389.5 553.2,397.7 553.8,439.2 554.3,428.1 554.9,394.2 555.5,415.3 556.0,389.8 556.6,415.0 557.2,414.5 557.7,430.9 558.3,435.0 558.9,411.5 559.4,386.1 560.0,397.6 560.6,439.2 561.1,378.9 561.7,438.0 562.3,434.4 562.8,410.0 563.4,420.8 564.0,368.6 564.5,395.6 565.1,395.8 565.7,428.6 566.2,431.9 566.8,399.5 567.3,395.6 567.9,405.4 568.5,390.5 569.0,400.5 569.6,425.5 570.2,430.0 570.7,424.2 571.3,403.1 571.9,412.3 572.4,395.1 573.0,392.5 573.6,364.4 574.1,431.5 574.7,398.7 575.3,395.5 575.8,404.9 576.4,405.1 577.0,404.6 577.5,429.7 578.1,377.4 578.7,387.7 579.2,391.3 579.8,394.8 580.4,461.5 580.9,377.4 581.5,432.3 582.1,440.9 582.6,383.1 583.2,392.6 583.8,403.4 584.3,380.4 584.9,420.6 585.5,428.5 586.0,431.9 586.6,395.2 587.2,394.1 587.7,452.2 588.3,376.2 588.9,383.8 589.4,360.2 590.0,430.3 590.6,389.3 591.1,416.9 591.7,389.7 592.3,418.0 592.8,377.7 593.4,420.3 593.9,430.3 594.5,405.1 595.1,381.5 595.6,394.2 596.2,407.7 596.8,384.0 597.3,431.0 597.9,431.3 598.5,370.3 599.0,377.8 599.6,405.0 600.2,380.2 600.7,412.0 601.3,429.3 601.9,424.6 602.4,393.1 603.0,398.5 603.6,396.8 604.1,403.7 604.7,385.5 605.3,425.1 605.8,432.7 606.4,384.1 607.0,404.4 607.5,391.7 608.1,401.4 608.7,395.9 609.2,426.7 609.8,426.3 610.4,403.8 610.9,422.0 611.5,383.0 612.1,446.3 612.6,390.8 613.2,424.8 613.8,440.8 614.3,412.9 614.9,413.9 615.5,395.6 616.0,420.1 616.6,415.6 617.2,435.2 617.7,445.0 618.3,416.3 618.9,392.0 619.4,405.2 620.0,431.3 620.5,424.7 621.1,378.7 621.7,443.5 622.2,418.6 622.8,393.9 623.4,408.1 623.9,417.3 624.5,411.0 625.1,434.8 625.6,436.0 626.2,422.6 626.8,439.6 627.3,455.6 627.9,416.8 628.5,423.5 629.0,454.0 629.6,450.2 630.2,412.2 630.7,406.6 631.3,434.9 631.9,422.7 632.4,409.0 633.0,454.6 633.6,454.7 634.1,424.1 634.7,410.3 635.3,394.8 635.8,402.7 636.4,433.3 637.0,455.2 637.5,441.3 638.1,435.7 638.7,434.1 639.2,413.7 639.8,402.9 640.4,412.9 640.9,441.2 641.5,444.3 642.1,417.6 642.6,425.0 643.2,425.5 643.8,416.5 644.3,396.3 644.9,448.6 645.5,448.6 646.0,404.8 646.6,425.2 647.1,402.1 647.7,420.3 648.3,424.2 648.8,446.0 649.4,456.3 650.0,429.1 650.5,431.1 651.1,413.5 651.7,430.8 652.2,405.7 652.8,455.7 653.4,441.0 653.9,426.2 654.5,402.1 655.1,410.6 655.6,462.7 656.2,425.5 656.8,453.4 657.3,455.6 657.9,403.9 658.5,426.7 659.0,404.3 659.6,427.5 660.2,418.9 660.7,460.2 661.3,452.6 661.9,412.5 662.4,443.5 663.0,403.3 663.6,407.9 664.1,436.3 664.7,405.2 665.3,462.8 665.8,403.7 666.4,406.4 667.0,420.8 667.5,433.5 668.1,421.1 668.7,439.7 669.2,459.8 669.8,411.7 670.4,424.3 670.9,460.2 671.5,449.6 672.1,438.2 672.6,451.8 673.2,453.0 673.7,424.8 674.3,406.4 674.9,415.1 675.4,415.9 676.0,409.6 676.6,458.1 677.1,446.5 677.7,427.4 678.3,465.2 678.8,405.6 679.4,422.8 680.0,414.2 680.5,457.7 681.1,461.6 681.7,428.2 682.2,472.0 682.8,415.6 683.4,425.6 683.9,426.0 684.5,458.9 685.1,463.8 685.6,390.9 686.2,430.1 686.8,442.8 687.3,436.9 687.9,430.3 688.5,463.0 689.0,465.7 689.6,435.4 690.2,418.2 690.7,418.0 691.3,427.5 691.9,448.4 692.4,462.0 693.0,461.1 693.6,427.9 694.1,429.1 694.7,432.6 695.3,436.8 695.8,434.7 696.4,422.8 697.0,463.8 697.5,424.8 698.1,419.1 698.7,449.8 699.2,426.8 699.8,440.2 700.3,461.5 700.9,456.5 701.5,444.8 702.0,430.3 702.6,437.9 703.2,434.2 703.7,447.0 704.3,462.6 704.9,461.1 705.4,431.0 706.0,439.6 706.6,425.3 707.1,436.7 707.7,435.4 708.3,455.1 708.8,461.5 709.4,426.9 710.0,437.9 710.5,439.8 711.1,423.5 711.7,447.2 712.2,385.4 712.8,459.9 713.4,434.6 713.9,438.2 714.5,420.9 715.1,442.5 715.6,431.8 716.2,453.0 716.8,463.2 717.3,440.2 717.9,429.2 718.5,438.5 719.0,414.8 719.6,456.6 720.2,466.1 720.7,451.2 721.3,433.8 721.9,437.8 722.4,437.5 723.0,448.6 723.6,457.3 724.1,462.1 724.7,140.4 725.2,143.4 725.8,141.7 726.4,144.2 726.9,146.7 727.5,118.2 728.1,457.7 728.6,466.2 729.2,439.7 729.8,446.9 730.3,423.5 730.9,436.4 731.5,429.5 732.0,457.4 732.6,457.7 733.2,371.5 733.7,438.8 734.3,449.0 734.9,458.3 735.4,451.8 736.0,459.7 736.6,465.4 737.1,63.5 737.7,437.5 738.3,432.0 738.8,449.6 739.4,446.4 740.0,463.4 740.5,469.8 741.1,449.7 741.7,446.0 742.2,443.0 742.8,447.3 743.4,447.4 743.9,468.2 744.5,464.5 745.1,449.3 745.6,453.0 746.2,436.2 746.8,432.8 747.3,446.8 747.9,466.7 748.5,469.0 749.0,419.1 749.6,426.5 750.2,449.3 750.7,444.0 751.3,439.9 751.8,472.1 752.4,466.1 753.0,415.7 753.5,453.7 754.1,444.2 754.7,458.6 755.2,451.2 755.8,472.2 756.4,457.9 756.9,442.9 757.5,448.9 758.1,421.2 758.6,434.5 759.2,443.3 759.8,463.4 760.3,470.8 760.9,440.8 761.5,443.4 762.0,430.6 762.6,429.9 763.2,455.5 763.7,467.6 764.3,472.3 764.9,452.6 765.4,459.0 766.0,426.5 766.6,434.2 767.1,440.4 767.7,461.8 768.3,468.6 768.8,461.3 769.4,449.4 770.0,475.3 770.5,426.3 771.1,427.0 771.7,464.7 772.2,467.7 772.8,444.7 773.4,442.1 773.9,437.7 774.5,442.2 775.1,427.6 775.6,464.1 776.2,468.9 776.8,455.9 777.3,442.4 777.9,415.7 778.4,447.0 779.0,439.5 779.6,465.5 780.1,468.8 780.7,441.2 781.3,436.8 781.8,424.9 782.4,438.8 783.0,444.1 783.5,456.0 784.1,450.4 784.7,439.4 785.2,415.2 785.8,453.1 786.4,440.7 786.9,421.1 787.5,456.8 788.1,458.9 788.6,432.8 789.2,435.7 789.8,409.6 790.3,435.5 790.9,447.6 791.5,462.6 792.0,461.6 792.6,435.0 793.2,427.3 793.7,455.5 794.3,409.6 794.9,426.6 795.4,466.9 796.0,417.8 796.6,441.7 797.1,421.3 797.7,429.4 798.3,438.0 798.8,451.0 799.4,459.9 800.0,460.5 800.5,419.1 801.1,441.1 801.7,434.5 802.2,411.5 802.8,424.8 803.4,465.1 803.9,466.5 804.5,437.0 805.0,434.0 805.6,430.8 806.2,422.6 806.7,446.5 807.3,451.4 807.9,462.6 808.4,428.9 809.0,430.5 809.6,441.3 810.1,435.5 810.7,419.5 811.3,398.4 811.8,461.5 812.4,443.2 813.0,433.8 813.5,430.0 814.1,429.3 814.7,426.8 815.2,463.3 815.8,456.6 816.4,424.1 816.9,434.2 817.5,431.6 818.1,439.9 818.6,456.4 819.2,459.4 819.8,459.7 820.3,434.6 820.9,439.3 821.5,431.2 822.0,404.7 822.6,449.6 823.2,464.0 823.7,462.7 824.3,450.0 824.9,434.6 825.4,437.1 826.0,439.0 826.6,458.5 827.1,466.5 827.7,459.0 828.3,445.3 828.8,428.2 829.4,454.3 830.0,451.4 830.5,421.8 831.1,468.6 831.6,465.8 832.2,441.4 832.8,437.1 833.3,429.7 833.9,440.8 834.5,452.5 835.0,465.1 835.6,464.9 836.2,445.3 836.7,442.7 837.3,450.8 837.9,439.0 838.4,453.0 839.0,455.3 839.6,464.5 840.1,429.4 840.7,441.2 841.3,414.7 841.8,414.9 842.4,440.2 843.0,446.3 843.5,450.5 844.1,418.3 844.7,412.5 845.2,413.2 845.8,410.6 846.4,428.2 846.9,453.4 847.5,454.4 848.1,424.6 848.6,425.2 849.2,424.5 849.8,435.8 850.3,430.3 850.9,453.7 851.5,448.6 852.0,439.1 852.6,442.9 853.2,412.1 853.7,418.0 854.3,424.3 854.9,454.2 855.4,456.2 856.0,427.8 856.6,418.4 857.1,431.8 857.7,423.1 858.2,438.0 858.8,452.2 859.4,446.0 859.9,422.3 860.5,449.9 861.1,427.0 861.6,445.0 862.2,424.4 862.8,449.3 863.3,457.1 863.9,413.2 864.5,442.0 865.0,420.0 865.6,421.8 866.2,439.6 866.7,449.3 867.3,451.6 867.9,429.6 868.4,441.0 869.0,433.9 869.6,455.2 870.1,435.8 870.7,462.7 871.3,460.1 871.8,451.7 872.4,455.4 873.0,444.9 873.5,420.2 874.1,429.9 874.7,460.4 875.2,454.4 875.8,433.5 876.4,450.0 876.9,436.7 877.5,430.0 878.1,428.1 878.6,463.3 879.2,458.3 879.8,440.1 880.3,453.6 880.9,452.4 881.5,438.3 882.0,411.4 882.6,467.4 883.2,463.3 883.7,436.6 884.3,443.5 884.8,436.0 885.4,428.2 886.0,443.5 886.5,457.7 887.1,465.5 887.7,443.3 888.2,434.5 888.8,424.7 889.4,446.8 889.9,428.4 890.5,462.5 891.1,461.6 891.6,427.0 892.2,435.7 892.8,437.5 893.3,433.1 893.9,426.0 894.5,451.1 895.0,457.1 895.6,445.9 896.2,431.3 896.7,444.8 897.3,436.4 897.9,431.2 898.4,455.1 899.0,457.3 899.6,411.5 900.1,430.3 900.7,427.1 901.3,427.0 901.8,443.4 902.4,453.1 903.0,457.8 903.5,435.4 904.1,431.9 904.7,421.0 905.2,441.4 905.8,428.3 906.4,454.8 906.9,462.3 907.5,441.4 908.1,439.3 908.6,71.1 909.2,430.2 909.8,443.5 910.3,457.7 910.9,460.8 911.4,423.0 912.0,445.0 912.6,434.9 913.1,442.6 913.7,426.9 914.3,461.6 914.8,467.7 915.4,456.4 916.0,435.7 916.5,424.6 917.1,453.0 917.7,445.6 918.2,467.9 918.8,464.7 919.4,457.5 919.9,443.4 920.5,447.0 921.1,437.5 921.6,449.7 922.2,463.3 922.8,463.9 923.3,451.9 923.9,431.6 924.5,437.5 925.0,430.4 925.6,436.5 926.2,464.0 926.7,459.5 927.3,454.2 927.9,450.8 928.4,446.6 929.0,445.1 929.6,442.4 930.1,468.3 930.7,467.1 931.3,475.3 931.8,427.9 932.4,432.8 933.0,441.6 933.5,444.7 934.1,463.4 934.7,458.3 935.2,447.5 935.8,436.4 936.3,213.1 936.9,450.0 937.5,437.0 938.0,459.6 938.6,464.9 939.2,439.5 939.7,443.2 940.3,445.7 940.9,455.0 941.4,422.8 942.0,459.4 942.6,465.3 943.1,444.0 943.7,425.9 944.3,454.4 944.8,437.2 945.4,437.5 946.0,464.4 946.5,458.7 947.1,440.8 947.7,442.0 948.2,436.9 948.8,427.0 949.4,435.8 949.9,466.3 950.5,466.1 951.1,431.6 951.6,451.0 952.2,445.3 952.8,438.3 953.3,428.5 953.9,466.9 954.5,460.2 955.0,455.1 955.6,433.6 956.2,436.6 956.7,413.6 957.3,427.5 957.9,469.4 958.4,466.6 959.0,435.9 959.6,427.8 960.1,436.5 960.7,450.6 961.3,421.9 961.8,455.6 962.4,461.5 962.9,434.0 963.5,414.1 964.1,431.2 964.6,427.2 965.2,436.8 965.8,451.1 966.3,458.9 966.9,433.0 967.5,428.9 968.0,411.7 968.6,433.0 969.2,398.4 969.7,454.8 970.3,447.8 970.9,430.7 971.4,408.6 972.0,429.3 972.6,432.6 973.1,428.6 973.7,440.4 974.3,447.8 974.8,389.6 975.4,402.7 976.0,396.4 976.5,421.9 977.1,420.9 977.7,434.6 978.2,441.6 978.8,419.1 979.4,425.9 979.9,428.2 980.5,418.3 981.1,411.6 981.6,435.7 982.2,429.4 982.8,414.9 983.3,418.8 983.9,400.8 984.5,400.6 985.0,402.1 985.6,435.6 986.2,435.9 986.7,429.6 987.3,420.1 987.9,421.7 988.4,418.7 989.0,403.9 989.5,437.9 990.1,438.8 990.7,410.0 991.2,399.8 991.8,418.3 992.4,412.5 992.9,410.3 993.5,429.4 994.1,435.8 994.6,405.5 995.2,408.6 995.8,370.3 996.3,397.8 996.9,405.4 997.5,436.3 998.0,443.0 998.6,417.1 999.2,421.7 999.7,410.5 1000.3,407.3 1000.9,433.9 1001.4,441.6 1002.0,445.8" fill="none" stroke="#4e79a7" stroke-width="3.1" stroke-linejoin="round" stroke-linecap="round"/>
<circle cx="187.6" cy="487.9" r="2.6" fill="#456d99"/>
<circle cx="440.1" cy="422.8" r="2.6" fill="#456d99"/>
<circle cx="511.3" cy="298.0" r="2.6" fill="#456d99"/>
<circle cx="737.3" cy="63.5" r="2.6" fill="#456d99"/>
<circle cx="908.7" cy="71.1" r="2.6" fill="#456d99"/>
<line x1="888.7" x2="888.7" y1="256.8" y2="445.1" stroke="#4e79a7" stroke-width="1.7"/>
<path d="M79.5,495.5 L79.5,495.5 L80.6,495.5 L81.8,495.5 L82.9,495.5 L84.0,495.5 L85.2,495.5 L86.3,495.5 L87.4,495.5 L88.6,495.5 L89.7,495.5 L90.8,495.5 L92.0,495.5 L93.1,495.5 L94.2,495.5 L95.3,495.5 L96.5,495.5 L97.6,495.5 L98.7,495.5 L99.9,495.5 L101.0,495.5 L102.1,495.5 L103.3,495.5 L104.4,495.5 L105.5,495.5 L106.7,495.5 L107.8,495.5 L108.9,495.5 L110.1,495.5 L111.2,495.5 L112.3,495.5 L113.5,495.5 L114.6,495.5 L115.7,495.5 L116.9,495.5 L118.0,495.5 L119.1,495.5 L120.2,495.5 L121.4,495.5 L122.5,495.5 L123.6,495.5 L124.8,495.5 L125.9,495.5 L127.0,495.5 L128.2,495.5 L129.3,495.5 L130.4,495.5 L131.6,495.5 L132.7,495.5 L133.8,495.5 L135.0,495.5 L136.1,495.5 L137.2,495.5 L138.4,495.5 L139.5,495.5 L140.6,495.5 L141.8,495.5 L142.9,495.5 L144.0,495.5 L145.2,495.5 L146.3,495.5 L147.4,495.5 L148.5,495.5 L149.7,495.5 L150.8,495.5 L151.9,495.5 L153.1,495.5 L154.2,495.5 L155.3,495.5 L156.5,495.5 L157.6,495.5 L158.7,495.5 L159.9,495.5 L161.0,495.5 L162.1,495.5 L163.3,495.5 L164.4,495.5 L165.5,495.5 L166.7,495.5 L167.8,495.5 L168.9,495.5 L170.1,495.5 L171.2,495.5 L172.3,495.5 L173.4,495.5 L174.6,495.5 L175.7,495.5 L176.8,495.5 L178.0,495.5 L179.1,495.5 L180.2,495.5 L181.4,495.5 L182.5,495.5 L183.6,495.5 L184.8,495.5 L185.9,495.5 L187.0,495.5 L188.2,495.5 L189.3,495.5 L190.4,495.5 L191.6,495.5 L192.7,495.5 L193.8,495.5 L195.0,495.5 L196.1,495.5 L197.2,495.5 L198.3,495.5 L199.5,495.5 L200.6,495.5 L201.7,495.5 L202.9,495.5 L204.0,495.5 L205.1,495.5 L206.3,495.5 L207.4,495.5 L208.5,495.5 L209.7,495.5 L210.8,495.5 L211.9,495.5 L213.1,495.5 L214.2,495.5 L215.3,495.5 L216.5,495.5 L217.6,495.5 L218.7,495.5 L219.9,495.5 L221.0,495.5 L222.1,495.5 L223.3,495.5 L224.4,495.5 L225.5,495.5 L226.6,495.5 L227.8,495.5 L228.9,495.5 L230.0,495.5 L231.2,495.5 L232.3,495.5 L233.4,495.5 L234.6,495.5 L235.7,495.5 L236.8,495.5 L238.0,495.5 L239.1,495.5 L240.2,495.5 L241.4,495.5 L242.5,495.5 L243.6,495.5 L244.8,495.5 L245.9,495.5 L247.0,495.5 L248.2,495.5 L249.3,495.5 L250.4,495.5 L251.5,495.5 L252.7,495.5 L253.8,495.5 L254.9,495.4 L256.1,495.4 L257.2,495.4 L258.3,495.3 L259.5,495.3 L260.6,495.3 L261.7,495.2 L262.9,495.2 L264.0,495.1 L265.1,495.1 L266.3,495.0 L267.4,494.9 L268.5,494.9 L269.7,494.8 L270.8,494.8 L271.9,494.7 L273.1,494.7 L274.2,494.7 L275.3,494.7 L276.5,494.6 L277.6,494.6 L278.7,494.6 L279.8,494.6 L281.0,494.6 L282.1,494.6 L283.2,494.6 L284.4,494.5 L285.5,494.5 L286.6,494.5 L287.8,494.5 L288.9,494.5 L290.0,494.4 L291.2,494.4 L292.3,494.3 L293.4,494.3 L294.6,494.3 L295.7,494.3 L296.8,494.2 L298.0,494.2 L299.1,494.2 L300.2,494.2 L301.4,494.0 L302.5,494.0 L303.6,494.0 L304.7,494.0 L305.9,494.0 L307.0,494.0 L308.1,494.0 L309.3,493.9 L310.4,493.9 L311.5,493.9 L312.7,493.9 L313.8,493.9 L314.9,493.9 L316.1,493.9 L317.2,493.9 L318.3,493.8 L319.5,493.8 L320.6,493.8 L321.7,493.8 L322.9,493.8 L324.0,493.8 L325.1,493.8 L326.3,493.8 L327.4,493.7 L328.5,493.7 L329.7,493.7 L330.8,493.7 L331.9,493.6 L333.0,493.6 L334.2,493.6 L335.3,493.5 L336.4,493.5 L337.6,493.4 L338.7,493.4 L339.8,493.3 L341.0,493.3 L342.1,493.3 L343.2,493.2 L344.4,493.2 L345.5,493.1 L346.6,493.1 L347.8,493.1 L348.9,493.0 L350.0,492.8 L351.2,492.8 L352.3,492.7 L353.4,492.7 L354.6,492.6 L355.7,492.6 L356.8,492.4 L357.9,492.4 L359.1,492.3 L360.2,492.1 L361.3,491.9 L362.5,491.8 L363.6,491.7 L364.7,491.5 L365.9,491.4 L367.0,491.2 L368.1,491.1 L369.3,490.9 L370.4,490.8 L371.5,490.6 L372.7,490.4 L373.8,490.2 L374.9,490.1 L376.1,489.8 L377.2,489.6 L378.3,489.4 L379.5,489.2 L380.6,489.0 L381.7,488.8 L382.8,488.6 L384.0,488.3 L385.1,488.1 L386.2,487.8 L387.4,487.6 L388.5,487.1 L389.6,486.9 L390.8,486.7 L391.9,486.6 L393.0,486.4 L394.2,486.2 L395.3,485.9 L396.4,485.7 L397.6,485.4 L398.7,485.1 L399.8,484.8 L401.0,484.5 L402.1,484.3 L403.2,484.0 L404.4,483.8 L405.5,483.5 L406.6,483.1 L407.8,482.8 L408.9,482.4 L410.0,482.1 L411.1,481.8 L412.3,481.5 L413.4,481.1 L414.5,480.8 L415.7,480.4 L416.8,480.0 L417.9,479.6 L419.1,479.3 L420.2,478.9 L421.3,478.5 L422.5,478.1 L423.6,477.8 L424.7,477.4 L425.9,477.1 L427.0,476.8 L428.1,476.4 L429.3,475.9 L430.4,475.4 L431.5,475.0 L432.7,474.6 L433.8,474.1 L434.9,473.7 L436.0,473.2 L437.2,472.7 L438.3,472.1 L439.4,471.6 L440.6,470.8 L441.7,470.2 L442.8,469.7 L444.0,469.2 L445.1,468.4 L446.2,467.7 L447.4,467.1 L448.5,466.3 L449.6,465.4 L450.8,464.7 L451.9,464.0 L453.0,463.1 L454.2,462.3 L455.3,461.7 L456.4,460.9 L457.6,460.1 L458.7,459.4 L459.8,458.8 L461.0,457.9 L462.1,457.2 L463.2,456.6 L464.3,456.0 L465.5,455.3 L466.6,454.6 L467.7,453.7 L468.9,453.0 L470.0,452.2 L471.1,451.8 L472.3,451.0 L473.4,450.3 L474.5,449.7 L475.7,449.1 L476.8,448.5 L477.9,447.8 L479.1,447.3 L480.2,446.8 L481.3,446.2 L482.5,445.5 L483.6,444.8 L484.7,443.9 L485.9,443.1 L487.0,442.4 L488.1,441.4 L489.2,440.1 L490.4,439.2 L491.5,438.4 L492.6,437.6 L493.8,436.8 L494.9,436.3 L496.0,435.5 L497.2,434.6 L498.3,433.9 L499.4,433.0 L500.6,432.2 L501.7,431.4 L502.8,430.7 L504.0,429.8 L505.1,429.0 L506.2,428.2 L507.4,427.2 L508.5,425.9 L509.6,424.3 L510.8,422.4 L511.9,420.2 L513.0,418.7 L514.2,417.4 L515.3,415.8 L516.4,414.5 L517.5,413.2 L518.7,412.2 L519.8,410.8 L520.9,409.4 L522.1,408.2 L523.2,407.1 L524.3,405.7 L525.5,404.6 L526.6,403.4 L527.7,402.1 L528.9,400.8 L530.0,399.7 L531.1,398.4 L532.3,397.3 L533.4,396.0 L534.5,395.0 L535.7,393.9 L536.8,392.7 L537.9,391.8 L539.1,390.9 L540.2,389.7 L541.3,388.6 L542.4,387.7 L543.6,386.7 L544.7,385.7 L545.8,384.9 L547.0,384.0 L548.1,382.6 L549.2,381.5 L550.4,380.2 L551.5,378.9 L552.6,377.6 L553.8,376.6 L554.9,375.5 L556.0,374.3 L557.2,373.2 L558.3,372.4 L559.4,371.1 L560.6,370.2 L561.7,369.4 L562.8,368.7 L564.0,367.7 L565.1,366.7 L566.2,366.1 L567.3,365.1 L568.5,364.2 L569.6,363.4 L570.7,362.7 L571.9,361.9 L573.0,360.9 L574.1,359.9 L575.3,359.0 L576.4,358.1 L577.5,357.3 L578.7,356.2 L579.8,355.2 L580.9,354.5 L582.1,353.8 L583.2,352.4 L584.3,351.0 L585.5,350.1 L586.6,349.0 L587.7,348.0 L588.9,346.5 L590.0,345.2 L591.1,344.0 L592.3,342.7 L593.4,341.5 L594.5,340.4 L595.6,339.0 L596.8,337.7 L597.9,336.8 L599.0,335.2 L600.2,333.8 L601.3,332.8 L602.4,331.7 L603.6,330.4 L604.7,329.2 L605.8,328.4 L607.0,327.2 L608.1,326.1 L609.2,325.1 L610.4,324.1 L611.5,323.0 L612.6,322.1 L613.8,321.4 L614.9,320.4 L616.0,319.4 L617.2,318.6 L618.3,317.8 L619.4,316.7 L620.5,315.9 L621.7,314.9 L622.8,313.8 L623.9,312.9 L625.1,312.0 L626.2,311.1 L627.3,310.4 L628.5,309.3 L629.6,308.7 L630.7,307.5 L631.9,306.5 L633.0,305.6 L634.1,304.8 L635.3,303.5 L636.4,302.4 L637.5,301.7 L638.7,300.8 L639.8,299.6 L640.9,298.6 L642.1,297.7 L643.2,296.7 L644.3,295.4 L645.5,294.7 L646.6,293.6 L647.7,292.8 L648.8,292.1 L650.0,291.6 L651.1,290.9 L652.2,290.1 L653.4,289.6 L654.5,288.8 L655.6,288.2 L656.8,287.7 L657.9,287.0 L659.0,286.2 L660.2,285.5 L661.3,285.1 L662.4,284.4 L663.6,283.5 L664.7,282.7 L665.8,282.1 L667.0,281.3 L668.1,280.6 L669.2,280.1 L670.4,279.3 L671.5,278.9 L672.6,278.4 L673.7,277.8 L674.9,277.0 L676.0,276.1 L677.1,275.7 L678.3,275.2 L679.4,274.4 L680.5,273.8 L681.7,273.2 L682.8,272.7 L683.9,272.0 L685.1,271.5 L686.2,270.4 L687.3,269.7 L688.5,269.0 L689.6,268.4 L690.7,267.5 L691.9,266.8 L693.0,266.5 L694.1,265.7 L695.3,265.1 L696.4,264.4 L697.5,263.8 L698.7,263.1 L699.8,262.5 L700.9,262.1 L702.0,261.4 L703.2,260.8 L704.3,260.3 L705.4,259.8 L706.6,259.1 L707.7,258.4 L708.8,258.0 L710.0,257.4 L711.1,256.7 L712.2,255.8 L713.4,255.3 L714.5,254.5 L715.6,253.9 L716.8,253.5 L717.9,252.8 L719.0,252.1 L720.2,251.7 L721.3,251.1 L722.4,250.5 L723.6,250.0 L724.7,247.8 L725.8,243.7 L726.9,239.7 L728.1,237.3 L729.2,236.8 L730.3,235.9 L731.5,235.0 L732.6,234.4 L733.7,233.1 L734.9,232.5 L736.0,232.1 L737.1,229.8 L738.3,229.1 L739.4,228.6 L740.5,228.3 L741.7,227.7 L742.8,227.1 L743.9,226.6 L745.1,226.1 L746.2,225.5 L747.3,224.8 L748.5,224.5 L749.6,223.6 L750.7,223.0 L751.8,222.6 L753.0,221.9 L754.1,221.3 L755.2,220.8 L756.4,220.5 L757.5,219.9 L758.6,219.0 L759.8,218.5 L760.9,218.0 L762.0,217.3 L763.2,216.7 L764.3,216.4 L765.4,215.9 L766.6,215.1 L767.7,214.6 L768.8,214.2 L770.0,213.8 L771.1,212.8 L772.2,212.4 L773.4,211.7 L774.5,210.9 L775.6,210.2 L776.8,209.7 L777.9,208.7 L779.0,208.0 L780.1,207.6 L781.3,206.8 L782.4,205.9 L783.5,205.2 L784.7,204.5 L785.8,203.7 L786.9,202.7 L788.1,202.2 L789.2,201.6 L790.3,200.9 L791.5,200.5 L792.6,200.0 L793.7,199.5 L794.9,198.8 L796.0,198.2 L797.1,197.6 L798.3,197.0 L799.4,196.6 L800.5,196.1 L801.7,195.5 L802.8,194.7 L803.9,194.5 L805.0,193.9 L806.2,193.2 L807.3,192.6 L808.4,192.0 L809.6,191.3 L810.7,190.4 L811.8,189.6 L813.0,188.9 L814.1,188.1 L815.2,187.5 L816.4,186.8 L817.5,186.0 L818.6,185.4 L819.8,185.0 L820.9,184.2 L822.0,183.3 L823.2,182.8 L824.3,182.3 L825.4,181.6 L826.6,181.1 L827.7,180.7 L828.8,180.1 L830.0,179.6 L831.1,179.0 L832.2,178.6 L833.3,177.9 L834.5,177.3 L835.6,177.0 L836.7,176.4 L837.9,175.8 L839.0,175.4 L840.1,174.8 L841.3,174.1 L842.4,173.3 L843.5,172.7 L844.7,171.8 L845.8,170.8 L846.9,170.1 L848.1,169.5 L849.2,168.6 L850.3,167.9 L851.5,167.4 L852.6,166.7 L853.7,165.8 L854.9,165.1 L856.0,164.5 L857.1,163.6 L858.2,162.9 L859.4,162.3 L860.5,161.6 L861.6,160.7 L862.8,159.9 L863.9,159.0 L865.0,158.1 L866.2,157.1 L867.3,156.5 L868.4,155.6 L869.6,154.8 L870.7,154.2 L871.8,153.6 L873.0,152.9 L874.1,151.8 L875.2,151.2 L876.4,150.4 L877.5,149.5 L878.6,148.7 L879.8,148.0 L880.9,147.4 L882.0,146.3 L883.2,145.9 L884.3,145.0 L885.4,144.1 L886.5,143.4 L887.7,142.8 L888.8,141.8 L889.9,141.0 L891.1,140.6 L892.2,139.9 L893.3,139.1 L894.5,138.5 L895.6,138.0 L896.7,137.3 L897.9,136.6 L899.0,136.1 L900.1,135.2 L901.3,134.4 L902.4,133.8 L903.5,133.3 L904.7,132.5 L905.8,131.7 L906.9,131.0 L908.1,129.6 L909.2,122.9 L910.3,121.7 L911.4,121.2 L912.6,120.6 L913.7,120.0 L914.8,119.7 L916.0,119.2 L917.1,118.6 L918.2,118.2 L919.4,117.9 L920.5,117.3 L921.6,116.6 L922.8,116.2 L923.9,115.5 L925.0,114.7 L926.2,114.1 L927.3,113.6 L928.4,113.0 L929.6,112.3 L930.7,111.9 L931.8,111.4 L933.0,110.6 L934.1,110.1 L935.2,109.5 L936.3,108.2 L937.5,107.8 L938.6,107.5 L939.7,106.7 L940.9,106.1 L942.0,105.4 L943.1,104.8 L944.3,104.1 L945.4,103.3 L946.5,102.8 L947.7,102.1 L948.8,101.2 L949.9,100.6 L951.1,99.9 L952.2,99.3 L953.3,98.4 L954.5,98.0 L955.6,97.3 L956.7,96.4 L957.9,95.9 L959.0,95.4 L960.1,94.7 L961.3,94.0 L962.4,93.6 L963.5,92.8 L964.6,92.0 L965.8,91.4 L966.9,90.8 L968.0,90.0 L969.2,89.1 L970.3,88.6 L971.4,87.7 L972.6,87.0 L973.7,86.3 L974.8,85.5 L976.0,84.5 L977.1,83.7 L978.2,83.1 L979.4,82.3 L980.5,81.6 L981.6,80.9 L982.8,80.1 L983.9,79.0 L985.0,77.6 L986.2,76.8 L987.3,75.8 L988.4,74.7 L989.5,73.6 L990.7,72.6 L991.8,71.3 L992.9,70.2 L994.1,69.4 L995.2,68.4 L996.3,67.0 L997.5,66.2 L998.6,65.4 L999.7,64.4 L1000.9,63.5 L1002.0,62.9 L1002.0,62.9 L1002.0,495.5 Z" fill="#f28e2b" fill-opacity="0.62"/>
<line x1="6" x2="1076" y1="41.2" y2="41.2" stroke="#e6e6e6" stroke-width="1.1"/>
<line x1="6.5" x2="1076" y1="518.4" y2="518.4" stroke="#dcdcdc" stroke-width="1.2"/>
<line x1="79.5" x2="79.5" y1="22" y2="554" stroke="#ebebeb" stroke-width="1"/>
<g clip-path="url(#outA)">
<line x1="271.2" x2="271.2" y1="22" y2="554" stroke="#d8d8d8" stroke-width="1.15"/>
<line x1="478.0" x2="478.0" y1="22" y2="554" stroke="#d8d8d8" stroke-width="1.15"/>
<line x1="684.0" x2="684.0" y1="22" y2="554" stroke="#d8d8d8" stroke-width="1.15"/>
<line x1="890.6" x2="890.6" y1="22" y2="554" stroke="#d8d8d8" stroke-width="1.15"/>
<line x1="1002.6" x2="1002.6" y1="22" y2="554" stroke="#d6d6e4" stroke-width="1.2"/>
</g>
<g clip-path="url(#inA)">
<line x1="271.2" x2="271.2" y1="22" y2="554" stroke="#fff" stroke-opacity="0.25" stroke-width="1.6"/>
<line x1="478.0" x2="478.0" y1="22" y2="554" stroke="#fff" stroke-opacity="0.25" stroke-width="1.6"/>
<line x1="684.0" x2="684.0" y1="22" y2="554" stroke="#fff" stroke-opacity="0.25" stroke-width="1.6"/>
<line x1="890.6" x2="890.6" y1="22" y2="554" stroke="#fff" stroke-opacity="0.25" stroke-width="1.6"/>
</g>
<text x="175.3" y="37" font-family="DejaVu Sans, Liberation Sans, sans-serif" font-size="14" fill="#666" text-anchor="middle">2016</text>
<text x="374.6" y="37" font-family="DejaVu Sans, Liberation Sans, sans-serif" font-size="14" fill="#666" text-anchor="middle">2017</text>
<text x="581.0" y="37" font-family="DejaVu Sans, Liberation Sans, sans-serif" font-size="14" fill="#666" text-anchor="middle">2018</text>
<text x="787.3" y="37" font-family="DejaVu Sans, Liberation Sans, sans-serif" font-size="14" fill="#666" text-anchor="middle">2019</text>
<text x="946.3" y="37" font-family="DejaVu Sans, Liberation Sans, sans-serif" font-size="14" fill="#666" text-anchor="middle">2020</text>
<text x="72.6" y="501.0" font-family="DejaVu Sans, Liberation Sans, sans-serif" font-size="14" fill="#666" text-anchor="end">0</text>
<text x="72.6" y="459.0" font-family="DejaVu Sans, Liberation Sans, sans-serif" font-size="14" fill="#666" text-anchor="end">100</text>
<text x="72.6" y="417.0" font-family="DejaVu Sans, Liberation Sans, sans-serif" font-size="14" fill="#666" text-anchor="end">200</text>
<text x="72.6" y="374.9" font-family="DejaVu Sans, Liberation Sans, sans-serif" font-size="14" fill="#666" text-anchor="end">300</text>
<text x="72.6" y="332.9" font-family="DejaVu Sans, Liberation Sans, sans-serif" font-size="14" fill="#666" text-anchor="end">400</text>
<text x="72.6" y="290.9" font-family="DejaVu Sans, Liberation Sans, sans-serif" font-size="14" fill="#666" text-anchor="end">500</text>
<text x="72.6" y="248.9" font-family="DejaVu Sans, Liberation Sans, sans-serif" font-size="14" fill="#666" text-anchor="end">600</text>
<text x="72.6" y="206.9" font-family="DejaVu Sans, Liberation Sans, sans-serif" font-size="14" fill="#666" text-anchor="end">700</text>
<text x="72.6" y="164.8" font-family="DejaVu Sans, Liberation Sans, sans-serif" font-size="14" fill="#666" text-anchor="end">800</text>
<text x="72.6" y="122.8" font-family="DejaVu Sans, Liberation Sans, sans-serif" font-size="14" fill="#666" text-anchor="end">900</text>
<text x="72.6" y="80.8" font-family="DejaVu Sans, Liberation Sans, sans-serif" font-size="14" fill="#666" text-anchor="end">1000</text>
<text x="1010" y="501.3" font-family="DejaVu Sans, Liberation Sans, sans-serif" font-size="14" fill="#666">0K</text>
<text x="1010" y="449.3" font-family="DejaVu Sans, Liberation Sans, sans-serif" font-size="14" fill="#666">20K</text>
<text x="1010" y="397.3" font-family="DejaVu Sans, Liberation Sans, sans-serif" font-size="14" fill="#666">40K</text>
<text x="1010" y="345.3" font-family="DejaVu Sans, Liberation Sans, sans-serif" font-size="14" fill="#666">60K</text>
<text x="1010" y="293.3" font-family="DejaVu Sans, Liberation Sans, sans-serif" font-size="14" fill="#666">80K</text>
<text x="1010" y="241.3" font-family="DejaVu Sans, Liberation Sans, sans-serif" font-size="14" fill="#666">100K</text>
<text x="1010" y="189.3" font-family="DejaVu Sans, Liberation Sans, sans-serif" font-size="14" fill="#666">120K</text>
<text x="1010" y="137.3" font-family="DejaVu Sans, Liberation Sans, sans-serif" font-size="14" fill="#666">140K</text>
<text x="1010" y="85.3" font-family="DejaVu Sans, Liberation Sans, sans-serif" font-size="14" fill="#666">160K</text>
<text transform="translate(26.5,278.8) rotate(-90)" font-family="DejaVu Sans, Liberation Sans, sans-serif" font-size="13.6" fill="#1c1c1c" text-anchor="middle">Daily Count</text>
<text transform="translate(1067,278.5) rotate(-90)" font-family="DejaVu Sans, Liberation Sans, sans-serif" font-size="14.1" fill="#1c1c1c" text-anchor="middle">Cumulative Total</text>
<text transform="translate(93.6,524.2) rotate(-90)" font-family="DejaVu Sans, Liberation Sans, sans-serif" font-size="13.5" fill="#666" text-anchor="end">Feb 12</text>
<text transform="translate(127.5,524.2) rotate(-90)" font-family="DejaVu Sans, Liberation Sans, sans-serif" font-size="13.5" fill="#666" text-anchor="end">Apr 12</text>
<text transform="translate(161.5,524.2) rotate(-90)" font-family="DejaVu Sans, Liberation Sans, sans-serif" font-size="13.5" fill="#666" text-anchor="end">Jun 11</text>
<text transform="translate(195.5,524.2) rotate(-90)" font-family="DejaVu Sans, Liberation Sans, sans-serif" font-size="13.5" fill="#666" text-anchor="end">Aug 10</text>
<text transform="translate(229.5,524.2) rotate(-90)" font-family="DejaVu Sans, Liberation Sans, sans-serif" font-size="13.5" fill="#666" text-anchor="end">Oct 09</text>
<text transform="translate(263.6,524.2) rotate(-90)" font-family="DejaVu Sans, Liberation Sans, sans-serif" font-size="13.5" fill="#666" text-anchor="end">Dec 08</text>
<text transform="translate(284.8,524.2) rotate(-90)" font-family="DejaVu Sans, Liberation Sans, sans-serif" font-size="13.5" fill="#666" text-anchor="end">Jan 16</text>
<text transform="translate(318.8,524.2) rotate(-90)" font-family="DejaVu Sans, Liberation Sans, sans-serif" font-size="13.5" fill="#666" text-anchor="end">Mar 17</text>
<text transform="translate(352.8,524.2) rotate(-90)" font-family="DejaVu Sans, Liberation Sans, sans-serif" font-size="13.5" fill="#666" text-anchor="end">May 16</text>
<text transform="translate(386.8,524.2) rotate(-90)" font-family="DejaVu Sans, Liberation Sans, sans-serif" font-size="13.5" fill="#666" text-anchor="end">Jul 15</text>
<text transform="translate(420.8,524.2) rotate(-90)" font-family="DejaVu Sans, Liberation Sans, sans-serif" font-size="13.5" fill="#666" text-anchor="end">Sep 13</text>
<text transform="translate(454.8,524.2) rotate(-90)" font-family="DejaVu Sans, Liberation Sans, sans-serif" font-size="13.5" fill="#666" text-anchor="end">Nov 12</text>
<text transform="translate(491.6,524.2) rotate(-90)" font-family="DejaVu Sans, Liberation Sans, sans-serif" font-size="13.5" fill="#666" text-anchor="end">Jan 16</text>
<text transform="translate(525.6,524.2) rotate(-90)" font-family="DejaVu Sans, Liberation Sans, sans-serif" font-size="13.5" fill="#666" text-anchor="end">Mar 17</text>
<text transform="translate(559.6,524.2) rotate(-90)" font-family="DejaVu Sans, Liberation Sans, sans-serif" font-size="13.5" fill="#666" text-anchor="end">May 16</text>
<text transform="translate(593.6,524.2) rotate(-90)" font-family="DejaVu Sans, Liberation Sans, sans-serif" font-size="13.5" fill="#666" text-anchor="end">Jul 15</text>
<text transform="translate(627.6,524.2) rotate(-90)" font-family="DejaVu Sans, Liberation Sans, sans-serif" font-size="13.5" fill="#666" text-anchor="end">Sep 13</text>
<text transform="translate(661.6,524.2) rotate(-90)" font-family="DejaVu Sans, Liberation Sans, sans-serif" font-size="13.5" fill="#666" text-anchor="end">Nov 12</text>
<text transform="translate(697.6,524.2) rotate(-90)" font-family="DejaVu Sans, Liberation Sans, sans-serif" font-size="13.5" fill="#666" text-anchor="end">Jan 16</text>
<text transform="translate(731.6,524.2) rotate(-90)" font-family="DejaVu Sans, Liberation Sans, sans-serif" font-size="13.5" fill="#666" text-anchor="end">Mar 17</text>
<text transform="translate(765.6,524.2) rotate(-90)" font-family="DejaVu Sans, Liberation Sans, sans-serif" font-size="13.5" fill="#666" text-anchor="end">May 16</text>
<text transform="translate(799.6,524.2) rotate(-90)" font-family="DejaVu Sans, Liberation Sans, sans-serif" font-size="13.5" fill="#666" text-anchor="end">Jul 15</text>
<text transform="translate(833.6,524.2) rotate(-90)" font-family="DejaVu Sans, Liberation Sans, sans-serif" font-size="13.5" fill="#666" text-anchor="end">Sep 13</text>
<text transform="translate(867.6,524.2) rotate(-90)" font-family="DejaVu Sans, Liberation Sans, sans-serif" font-size="13.5" fill="#666" text-anchor="end">Nov 12</text>
<text transform="translate(904.6,524.2) rotate(-90)" font-family="DejaVu Sans, Liberation Sans, sans-serif" font-size="13.5" fill="#666" text-anchor="end">Jan 16</text>
<text transform="translate(921.6,524.2) rotate(-90)" font-family="DejaVu Sans, Liberation Sans, sans-serif" font-size="13.5" fill="#666" text-anchor="end">Feb 15</text>
<text transform="translate(938.6,524.2) rotate(-90)" font-family="DejaVu Sans, Liberation Sans, sans-serif" font-size="13.5" fill="#666" text-anchor="end">Mar 16</text>
<text transform="translate(955.6,524.2) rotate(-90)" font-family="DejaVu Sans, Liberation Sans, sans-serif" font-size="13.5" fill="#666" text-anchor="end">Apr 15</text>
<text transform="translate(972.6,524.2) rotate(-90)" font-family="DejaVu Sans, Liberation Sans, sans-serif" font-size="13.5" fill="#666" text-anchor="end">May 15</text>
<text transform="translate(989.6,524.2) rotate(-90)" font-family="DejaVu Sans, Liberation Sans, sans-serif" font-size="13.5" fill="#666" text-anchor="end">Jun 14</text>
<text x="187.0" y="481.5" font-family="DejaVu Sans, Liberation Sans, sans-serif" font-size="10" fill="#5a7fa6" text-anchor="middle">18</text>
<text x="440.0" y="416.5" font-family="DejaVu Sans, Liberation Sans, sans-serif" font-size="10" fill="#5a7fa6" text-anchor="middle">173</text>
<text x="511.0" y="292.0" font-family="DejaVu Sans, Liberation Sans, sans-serif" font-size="10" fill="#5a7fa6" text-anchor="middle">470</text>
<text x="737.0" y="57.5" font-family="DejaVu Sans, Liberation Sans, sans-serif" font-size="10" fill="#5a7fa6" text-anchor="middle">1,028</text>
<text x="908.7" y="65.0" font-family="DejaVu Sans, Liberation Sans, sans-serif" font-size="10" fill="#5a7fa6" text-anchor="middle">1,010</text>
<text x="270.0" y="489.0" font-family="DejaVu Sans, Liberation Sans, sans-serif" font-size="10" fill="#e9a45f" text-anchor="end">506</text>
<text x="683.0" y="265.5" font-family="DejaVu Sans, Liberation Sans, sans-serif" font-size="10" fill="#e9a45f" text-anchor="end">85,959</text>
<text x="889.0" y="134.5" font-family="DejaVu Sans, Liberation Sans, sans-serif" font-size="10" fill="#e9a45f" text-anchor="end">136,275</text>
<text x="1002.0" y="56.5" font-family="DejaVu Sans, Liberation Sans, sans-serif" font-size="10" fill="#e9a45f" text-anchor="end">166,247</text>
<text x="11" y="5.5" font-family="DejaVu Sans, Liberation Sans, sans-serif" font-weight="bold" font-size="23" fill="#2a2a2a" textLength="468" lengthAdjust="spacingAndGlyphs">Creation of ERC20 Token Contracts</text>
<defs>
<linearGradient id="lg" gradientUnits="userSpaceOnUse" x1="871" y1="0" x2="925.5" y2="0">
<stop offset="0" stop-color="#1766f4"/><stop offset="0.35" stop-color="#1c7cf2"/><stop offset="0.54" stop-color="#22a6ee"/>
<stop offset="0.66" stop-color="#3fe0e4"/><stop offset="0.78" stop-color="#9aead2"/><stop offset="0.9" stop-color="#e4e6c8"/><stop offset="1" stop-color="#fbf3ea"/>
</linearGradient>
<linearGradient id="lg2" gradientUnits="userSpaceOnUse" x1="892" y1="0" x2="920" y2="8">
<stop offset="0" stop-color="#1f6af2"/><stop offset="0.4" stop-color="#2f86f0"/><stop offset="0.75" stop-color="#a8d4ee"/><stop offset="1" stop-color="#f1ede0"/>
</linearGradient>
</defs>
<circle cx="898.2" cy="0.8" r="22.3" fill="none" stroke="url(#lg)" stroke-width="9.4"/>
<path d="M 913 -4 L 930 -4 L 930 5.5 L 913 1 Z" fill="#fff"/>
<path d="M 885.6 -3 C 886 5.5, 891 9.2, 896.5 7.6" fill="none" stroke="#1b56dc" stroke-width="3.6" stroke-linecap="round"/>
<path d="M 891.5 -3 L 906 -3 L 921 7 Q 911 2.5 904 5.2 Q 897 9.5 893.5 5 Q 891.5 2 891.5 -3 Z" fill="url(#lg2)"/>
<text x="930" y="18.9" font-family="Liberation Sans, sans-serif" font-weight="bold" font-size="40" fill="#2b56d9" stroke="#2b56d9" stroke-width="0.5" textLength="107" lengthAdjust="spacingAndGlyphs">Codefi</text>
<g stroke-linejoin="round">
<ellipse cx="929.6" cy="532" rx="11" ry="9.6" fill="#6f6f6f" fill-opacity="0.35"/>
<ellipse cx="929" cy="531.4" rx="11" ry="9.6" fill="#fff"/>
<path d="M 921 538.5 L 918.5 543 L 925 540.5 Z" fill="#fff" stroke="#8c8c8c" stroke-width="0.7"/>
<ellipse cx="944.9" cy="539" rx="13.2" ry="12.2" fill="#6a6a6a" fill-opacity="0.6"/>
<ellipse cx="944.3" cy="538.4" rx="13.2" ry="12.2" fill="#fff" stroke="#9a9a9a" stroke-width="0.7"/>
<path d="M 951 548.5 L 954.5 552 L 948 550.6 Z" fill="#fff" stroke="#8c8c8c" stroke-width="0.7"/>
</g>
<g fill="#fff" stroke="#8f8f8f" stroke-width="0.8"><circle cx="924" cy="523.6" r="1.5"/><circle cx="936.3" cy="523.8" r="1.5"/><circle cx="939.6" cy="534.4" r="1.6"/><circle cx="949.3" cy="534.2" r="1.6"/></g>
<text x="966.2" y="545.8" font-family="Liberation Sans, Noto Sans CJK SC, sans-serif" font-size="26.5" fill="#4a4a4a" fill-opacity="0.85" textLength="80" lengthAdjust="spacing">区块记</text>
<text x="965.2" y="544.8" font-family="Liberation Sans, Noto Sans CJK SC, sans-serif" font-size="26.5" fill="#fff" stroke="#fff" stroke-width="0.5" textLength="80" lengthAdjust="spacing">区块记</text>
</svg>
</body></html>
